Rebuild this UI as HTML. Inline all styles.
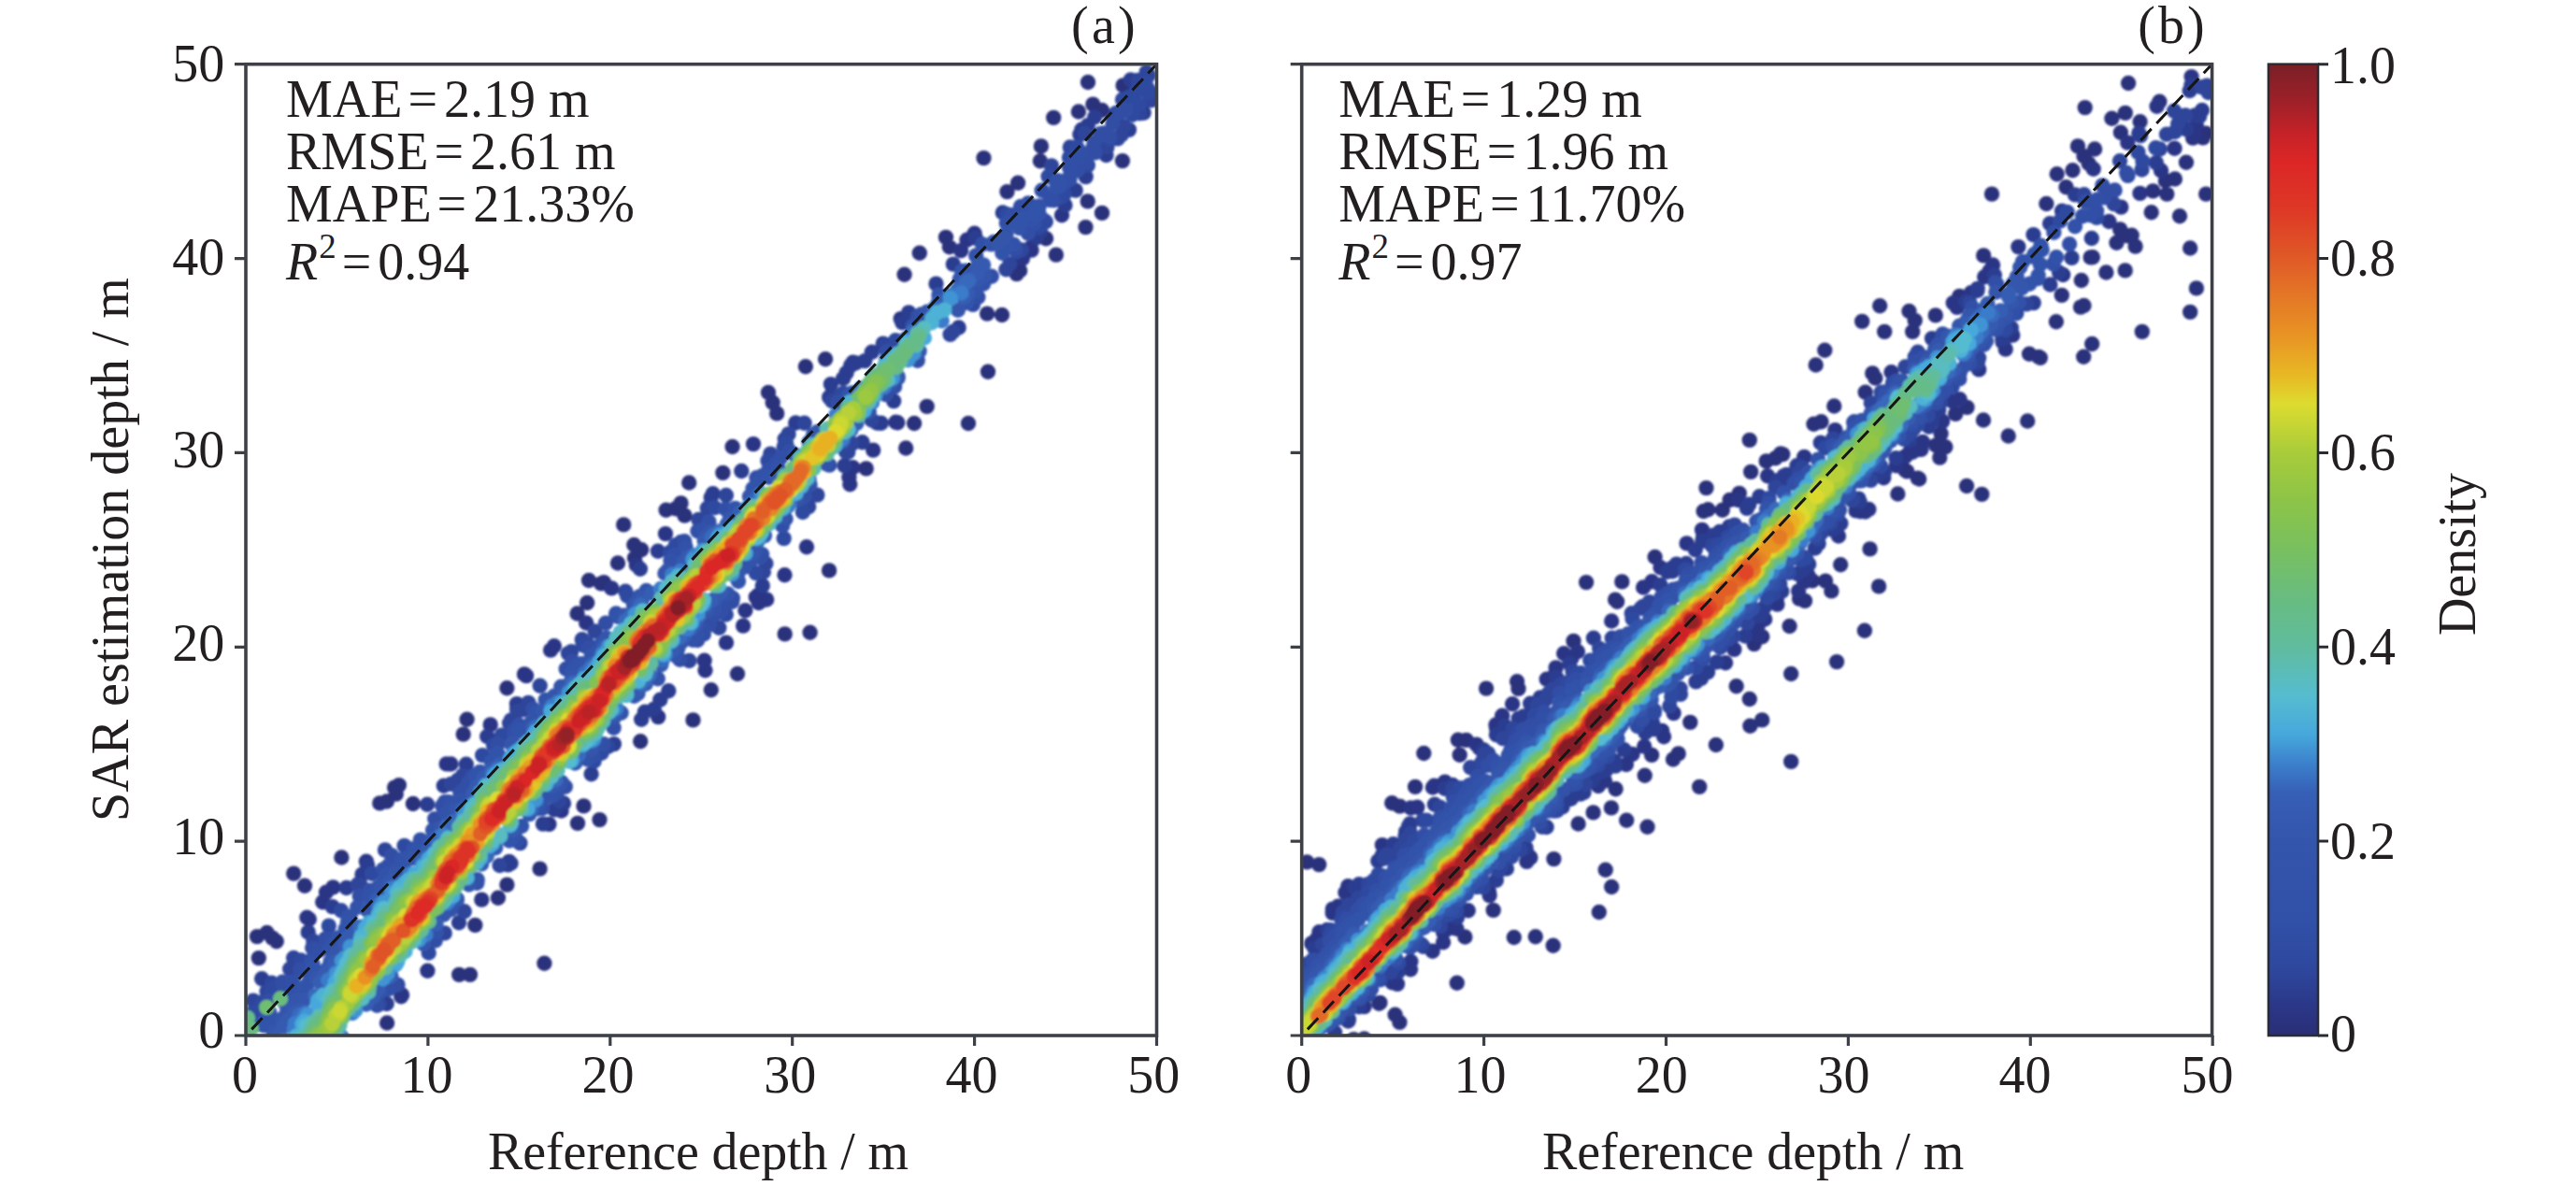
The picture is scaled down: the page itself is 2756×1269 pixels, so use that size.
<!DOCTYPE html><html><head><meta charset="utf-8"><title>fig</title><style>html,body{margin:0;padding:0;background:#fff}
#c{position:relative;width:2756px;height:1269px;overflow:hidden;background:#fff;font-family:"Liberation Serif",serif;color:#231f20}
.t{position:absolute;white-space:nowrap;font-size:56px;line-height:1;}
.eq{margin:0 7px 0 6px}
sup{font-size:37px;line-height:0;vertical-align:baseline;position:relative;top:-23px;margin-left:1px}
</style></head><body><div id="c"><svg width="2756" height="1269" viewBox="0 0 2756 1269" style="position:absolute;left:0;top:0">
<clipPath id="ca"><rect x="263.0" y="68.7" width="974.5" height="1039.3"/></clipPath>
<clipPath id="cb"><rect x="1392.7" y="68.7" width="973.9" height="1039.3"/></clipPath>
<filter id="bl" x="-2%" y="-2%" width="104%" height="104%"><feGaussianBlur stdDeviation="0.9"/></filter><filter id="bl2" x="-2%" y="-2%" width="104%" height="104%"><feGaussianBlur stdDeviation="0.45"/></filter>
<g clip-path="url(#ca)"><g filter="url(#bl)"><g fill="none" stroke-linecap="round" stroke-width="16.4"><path stroke="#2a317b" d="M582.4 1030.7h0M314.2 934.6h0M1164.0 88.0h0M1127.2 125.9h0M887.1 610.4h0M667.2 561.4h0M969.2 479.5h0M275.0 1002.1h0M983.8 270.7h0M422.1 842.6h0M630.0 621.0h0M406.3 859.4h0M1163.7 215.4h0M967.6 293.7h0M577.6 929.6h0M737.2 516.5h0M760.8 738.2h0M1153.9 119.5h0M499.6 769.7h0M413.9 857.5h0M423.8 849.6h0M618.0 880.9h0M712.6 545.7h0M1200.9 172.1h0M826.7 430.8h0M1052.5 169.1h0M1113.9 156.4h0M1012.0 253.9h0M1179.0 227.9h0M1161.5 243.1h0M1129.9 272.6h0M1072.0 337.0h0M1057.0 397.7h0M861.9 392.3h0M822.0 420.0h0M783.6 478.0h0M991.7 434.9h0M978.1 453.0h0M1036.0 453.0h0M732.5 551.6h0M661.0 602.5h0M646.0 623.1h0M866.6 676.7h0M839.7 678.4h0M789.0 721.0h0M741.5 770.4h0M561.0 721.4h0M495.7 785.6h0M426.9 840.1h0M441.9 860.0h0M641.5 877.1h0M326.0 947.7h0M285.6 998.0h0M276.8 1025.1h0M502.9 1042.9h0M491.2 1042.9h0M1201.6 91.4h0M1179.0 118.0h0M365.4 917.5h0M291.4 1003.6h0M678.3 583.0h0M1056.1 335.6h0M1015.8 264.2h0M643.2 624.4h0M728.5 538.4h0M883.1 384.3h0M1077.5 205.1h0M414.1 1094.5h0M723.0 544.2h0M508.3 989.9h0M624.5 862.4h0M628.2 645.0h0M542.4 736.3h0M1169.3 111.6h0M532.9 960.8h0M617.6 656.5h0M1091.2 289.5h0M295.8 1007.3h0M1087.7 293.1h0M1089.1 195.8h0M1112.9 172.3h0M542.4 946.6h0M926.7 501.4h0M1119.1 255.2h0M831.2 442.4h0M685.2 793.2h0M960.3 452.2h0M679.0 597.0h0M773.4 505.9h0M686.2 588.3h0"/><path stroke="#2b3686" d="M563.1 723.1h0M958.4 451.7h0M754.5 717.3h0M820.2 641.5h0M477.7 817.4h0M1034.5 256.7h0M349.0 954.7h0M934.2 481.6h0M328.4 981.8h0M795.1 669.6h0M863.0 585.2h0M592.9 691.2h0M1136.0 230.2h0M589.1 695.6h0M356.3 949.4h0M909.3 518.2h0M839.5 615.3h0M806.0 475.1h0M482.4 817.5h0M712.0 571.1h0M704.2 767.1h0M777.0 687.6h0M1103.6 267.6h0M1042.6 249.8h0M457.4 1038.7h0M330.8 983.5h0M1028.1 268.1h0M811.7 645.0h0M345.2 965.3h0M680.8 604.4h0M654.3 629.4h0M515.3 962.6h0M627.2 666.5h0M1093.9 276.8h0M429.2 1066.3h0M587.4 881.9h0M908.4 510.8h0M753.6 706.7h0M430.1 1064.5h0M524.7 775.4h0M1102.7 265.0h0M912.5 500.2h0M797.4 653.2h0M963.7 341.1h0M600.6 867.5h0M391.9 921.8h0M912.6 387.7h0M810.8 637.1h0M808.8 638.9h0"/><path stroke="#2c3d90" d="M546.5 923.8h0M972.2 334.4h0M942.7 452.7h0M1019.8 282.6h0M280.1 1047.3h0M910.1 391.3h0M888.9 411.1h0M762.7 528.2h0M1139.5 219.5h0M1209.6 85.5h0M543.5 925.4h0M329.7 997.4h0M915.3 388.5h0M1171.2 125.2h0M1043.8 254.7h0M1157.3 138.8h0M815.8 626.6h0M1109.2 254.3h0M699.9 758.6h0M905.6 398.9h0M552.9 753.1h0M684.9 608.8h0M956.2 429.1h0M851.2 452.5h0M965.3 345.1h0M457.1 860.8h0M491.0 987.2h0M760.7 532.3h0M686.2 769.8h0M938.2 452.5h0M393.0 925.8h0M1223.6 120.7h0M1001.5 303.6h0M902.2 404.9h0M580.9 881.6h0M370.6 950.0h0M703.9 589.8h0M355.6 970.1h0M413.7 1074.0h0M544.7 921.9h0M932.8 376.7h0M1113.0 248.1h0M603.0 859.5h0M498.8 817.8h0M1207.9 138.9h0M1163.7 134.2h0M793.3 504.0h0M715.3 739.2h0M474.8 840.8h0M1150.7 203.6h0M922.6 473.2h0M1161.7 189.1h0M521.2 788.0h0M1155.4 143.9h0M944.8 367.6h0M925.3 386.1h0M632.6 828.2h0M706.3 748.8h0M656.9 796.1h0M387.5 935.6h0M1025.7 350.5h0M1183.5 166.0h0M1072.8 227.5h0M689.9 761.7h0M887.2 425.1h0M903.4 498.3h0M1233.1 106.6h0M888.6 423.5h0M593.3 866.4h0M553.1 758.0h0M1157.5 142.9h0"/><path stroke="#2d459a" d="M1231.3 107.2h0M607.9 699.1h0M1144.8 157.5h0M843.6 464.4h0M860.6 452.8h0M622.7 684.3h0M1219.3 121.3h0M1076.4 288.2h0M947.2 368.9h0M314.1 1025.0h0M1199.9 144.3h0M482.6 838.9h0M1016.6 357.9h0M475.7 998.4h0M270.9 1070.6h0M932.7 449.5h0M1019.6 354.9h0M1118.8 237.2h0M1125.0 177.4h0M769.3 671.8h0M737.4 707.0h0M611.2 697.3h0M553.4 761.0h0M1080.2 282.5h0M412.0 909.4h0M1195.7 148.4h0M1217.2 86.0h0M1235.8 100.9h0M816.9 612.0h0M1226.7 77.1h0M489.8 834.7h0M1093.1 267.4h0M839.7 469.8h0M1160.6 142.7h0M495.1 829.6h0M669.2 632.8h0M756.8 543.8h0M496.8 975.2h0M907.3 483.7h0M776.9 530.0h0M382.6 946.5h0M890.2 429.0h0M636.6 675.4h0M290.6 1051.7h0M874.4 529.6h0M534.6 926.0h0M747.4 555.9h0M565.3 751.9h0M865.2 542.3h0M650.7 798.8h0M1111.7 244.1h0M546.7 770.6h0M577.7 733.7h0M623.6 688.3h0M489.9 837.8h0M598.0 857.2h0M385.7 947.0h0M556.4 902.1h0M285.5 1060.5h0M1201.0 106.5h0M560.2 759.3h0M310.2 1036.7h0M335.3 1007.0h0M1228.8 80.5h0M819.4 603.0h0M545.1 773.8h0M824.3 485.6h0M1184.4 157.5h0M897.3 424.0h0M1202.5 135.2h0M904.8 483.2h0M911.8 474.6h0"/><path stroke="#2f4aa0" d="M722.8 583.2h0M1113.0 241.1h0M958.1 364.2h0M1077.0 229.3h0M858.9 548.0h0M397.9 934.8h0M398.0 934.7h0M1203.0 106.5h0M902.1 420.6h0M365.0 974.2h0M1211.6 122.7h0M1228.3 99.5h0M841.2 474.6h0M643.6 805.7h0M624.7 690.8h0M458.7 1019.5h0M1163.8 176.9h0M1218.8 112.3h0M1116.3 235.5h0M351.8 990.6h0M1152.1 157.2h0M776.8 657.5h0M321.9 1027.5h0M1225.5 88.4h0M536.8 786.7h0M1228.4 95.2h0M838.7 576.1h0M728.8 579.9h0M291.6 1057.8h0M626.3 690.4h0M764.6 543.1h0M808.8 613.1h0M405.6 1074.5h0M716.9 590.9h0M1087.6 269.2h0M838.7 478.2h0M1138.6 207.6h0M635.6 814.4h0M628.4 688.8h0M1208.0 103.9h0M280.8 1072.4h0M294.7 1055.8h0M295.0 1055.6h0M334.2 1014.3h0M775.9 656.2h0M1135.3 210.7h0M1194.2 120.9h0M270.8 1083.1h0M1187.5 148.8h0M1215.0 98.8h0M516.1 808.1h0M821.5 493.1h0M1121.6 188.7h0M1040.9 325.9h0M425.5 1053.6h0M671.2 637.7h0M290.4 1063.1h0M432.6 904.9h0M269.4 1087.4h0M528.0 797.2h0M1144.0 168.6h0M273.8 1082.5h0"/><path stroke="#304da4" d="M335.9 1015.0h0M1162.2 174.2h0M1187.6 146.5h0M759.2 668.6h0M403.4 1075.8h0M752.9 678.5h0M418.8 915.1h0M1199.6 119.9h0M957.1 413.7h0M553.6 899.7h0M732.3 579.2h0M302.3 1050.7h0M1190.9 129.4h0M1171.7 163.4h0M473.2 862.2h0M783.3 643.7h0M648.0 666.8h0M475.9 858.3h0M287.2 1071.0h0M1190.5 132.0h0M727.4 705.7h0M1046.4 318.0h0M1204.5 117.9h0M1092.2 220.9h0M896.0 430.1h0M465.7 1006.4h0M532.7 795.6h0M612.5 707.3h0M320.9 1037.3h0M981.7 385.8h0M948.9 375.9h0M1149.1 167.8h0M348.3 1004.4h0M605.7 715.8h0M1153.1 182.3h0M422.1 1054.5h0M1176.9 143.3h0M981.9 338.4h0M1180.6 142.5h0M1180.5 144.2h0M1127.5 214.3h0M1086.4 266.5h0M1100.0 249.6h0M1082.5 230.3h0M604.8 841.8h0M629.6 693.3h0M1169.3 158.4h0M947.9 422.1h0M887.3 497.6h0M302.7 1054.7h0M465.2 876.1h0M1091.8 222.8h0M1170.6 153.1h0M384.7 958.6h0M746.2 685.0h0M783.9 640.0h0M844.8 482.5h0M1154.5 165.8h0M492.3 847.8h0M313.3 1050.1h0M1156.8 171.5h0M861.1 531.0h0"/><path stroke="#314fa7" d="M1157.6 163.9h0M771.3 654.1h0M746.4 568.2h0M1144.5 192.0h0M835.2 489.7h0M1153.7 169.6h0M501.2 837.2h0M479.8 858.2h0M1051.1 261.5h0M645.8 796.1h0M570.2 758.6h0M409.9 930.4h0M505.0 831.1h0M496.2 845.3h0M752.8 672.8h0M1114.7 203.8h0M313.2 1050.6h0M341.5 1016.7h0M510.3 944.7h0M720.3 594.8h0M1123.8 214.1h0M416.0 1058.1h0M859.0 533.0h0M634.7 808.8h0M772.6 651.5h0M813.3 596.4h0M764.9 657.2h0M352.3 1005.2h0M1107.3 238.1h0M656.6 778.8h0M580.2 865.0h0M332.5 1027.6h0M1145.4 183.2h0M815.2 593.1h0M747.6 679.9h0M1143.4 191.1h0M776.3 544.7h0M722.8 593.5h0M1100.1 217.4h0M809.4 511.3h0M1144.0 179.3h0M1141.4 193.4h0M415.0 926.7h0M1060.8 295.7h0M554.3 776.6h0M555.1 775.7h0M830.1 496.4h0M595.7 848.4h0M1123.3 211.7h0M549.5 782.0h0M326.7 1037.9h0M395.7 952.6h0M273.0 1097.0h0M1076.8 238.6h0M550.2 781.7h0M659.1 656.5h0M837.1 562.4h0M493.8 850.3h0M285.5 1086.1h0M822.3 502.8h0M758.5 558.4h0M772.5 648.9h0"/><path stroke="#3251a9" d="M1111.6 228.6h0M288.4 1083.4h0M733.6 585.4h0M449.8 898.6h0M508.4 829.4h0M1130.3 200.4h0M815.4 509.1h0M591.1 851.8h0M985.5 336.5h0M372.6 980.7h0M1133.0 199.8h0M717.5 599.9h0M510.7 941.3h0M1131.1 195.9h0M442.1 908.3h0M1131.3 193.3h0M334.2 1030.8h0M614.8 712.3h0M286.1 1087.7h0M628.5 812.5h0M484.2 859.2h0M741.2 684.8h0M1084.6 261.7h0M450.9 899.7h0M1133.4 193.8h0M482.8 860.5h0M929.8 440.5h0M840.6 555.2h0M598.9 842.7h0M866.5 518.8h0M1104.9 234.8h0M531.4 805.4h0M746.0 678.2h0M374.6 980.7h0M467.2 997.4h0M429.3 919.8h0M382.3 970.7h0M1052.1 303.7h0M550.6 895.1h0M832.0 499.7h0M752.4 566.9h0M394.5 959.3h0M1111.7 220.4h0M1044.2 273.4h0M1101.0 235.2h0M764.5 651.7h0M331.5 1038.6h0M309.1 1064.1h0M907.9 423.1h0M703.8 726.2h0"/><path stroke="#3252aa" d="M356.1 1010.5h0M1106.5 229.0h0M809.3 518.3h0M282.2 1097.3h0M790.0 622.0h0M371.8 986.5h0M554.8 781.5h0M1108.6 223.3h0M722.8 701.4h0M352.8 1015.8h0M433.4 918.7h0M335.1 1034.3h0M1029.3 289.9h0M361.2 1003.5h0M1085.0 238.6h0M1094.5 233.2h0M513.5 825.9h0M482.3 973.3h0M477.0 870.2h0M463.0 888.3h0M304.2 1072.3h0M414.0 935.9h0M1004.5 315.4h0M849.9 486.1h0M611.6 719.2h0M509.2 832.4h0M575.9 865.2h0M805.5 522.7h0M911.5 420.5h0M493.3 856.3h0M544.9 899.5h0M884.0 496.2h0M1090.7 244.0h0M404.4 949.5h0M661.0 659.8h0M870.0 465.5h0M976.7 348.8h0M804.1 598.9h0M532.9 807.0h0M960.6 404.4h0M478.5 870.4h0M369.7 993.9h0M525.7 815.0h0M323.2 1058.4h0M620.3 712.2h0M411.0 941.5h0M622.3 710.3h0M601.0 837.3h0M778.7 635.5h0M356.3 1015.2h0M600.3 734.7h0"/><path stroke="#3353aa" d="M445.8 911.2h0M574.4 762.8h0M291.3 1095.5h0M1034.1 323.9h0M822.6 510.8h0M643.6 688.2h0M632.8 701.8h0M556.5 782.4h0M437.8 918.1h0M583.8 748.9h0M664.6 762.8h0M1060.4 261.4h0M1072.4 270.8h0M1042.4 312.6h0M786.6 543.9h0M432.5 923.0h0M406.1 1061.8h0M684.5 638.1h0M1063.5 258.9h0M1077.2 263.3h0M293.9 1093.6h0M558.1 884.0h0M415.4 938.3h0M683.7 639.4h0M425.2 929.6h0M632.6 803.0h0M691.5 632.0h0M796.9 606.6h0M483.5 969.5h0M329.4 1052.2h0M583.3 853.2h0M485.1 866.3h0M404.0 953.9h0M428.5 927.5h0M1076.5 250.5h0M725.4 693.4h0M568.0 773.3h0M549.0 892.2h0M852.0 535.1h0M788.4 618.5h0M581.8 854.7h0M1073.9 265.8h0M902.1 472.6h0M292.4 1098.2h0M637.8 698.7h0M1004.8 317.6h0M677.9 647.1h0"/><path stroke="#3454ab" d="M441.1 918.2h0M756.4 653.7h0M423.1 934.3h0M317.5 1069.9h0M1074.2 254.3h0M801.9 531.3h0M597.1 839.0h0M407.3 951.6h0M603.2 735.1h0M1053.2 295.9h0M319.3 1069.7h0M714.1 610.6h0M1029.3 294.1h0M1033.5 289.7h0M874.9 461.9h0M657.5 767.0h0M960.5 402.9h0M808.2 589.0h0M487.6 866.3h0M1067.4 260.1h0M474.7 978.6h0M808.8 587.9h0M682.5 741.9h0M547.3 796.5h0M721.5 696.3h0M612.2 724.3h0M632.5 801.1h0M593.0 744.8h0M453.1 1009.9h0M293.2 1103.1h0M668.1 658.4h0M649.0 682.8h0M301.6 1090.3h0M836.6 552.9h0M729.4 686.7h0M307.3 1081.8h0M353.6 1028.9h0M711.4 613.5h0M852.3 533.2h0M1051.1 296.4h0M549.1 795.2h0M471.3 885.4h0M359.8 1019.9h0M1024.9 331.7h0M991.9 333.7h0"/><path stroke="#3456ad" d="M462.8 897.8h0M1026.8 298.5h0M865.5 473.2h0M680.3 647.1h0M292.7 1106.8h0M805.1 591.4h0M365.5 1109.6h0M780.7 555.4h0M355.4 1028.4h0M983.6 375.7h0M392.6 973.5h0M459.1 902.7h0M690.8 731.8h0M736.5 594.7h0M687.6 639.4h0M952.7 410.5h0M678.5 744.8h0M416.4 943.9h0M755.5 574.0h0M789.4 613.5h0M489.0 962.8h0M350.6 1036.0h0M338.5 1047.0h0M501.7 946.5h0M419.2 942.1h0M1046.9 299.0h0M313.4 1080.6h0M349.4 1038.1h0M802.6 593.1h0M461.1 901.1h0M327.1 1069.2h0M609.2 731.6h0M488.9 961.9h0M730.8 601.2h0M566.4 871.1h0M760.4 570.0h0M765.7 640.6h0M745.0 667.9h0M371.9 1003.2h0M590.6 841.8h0M580.8 760.6h0M783.6 554.6h0M508.9 843.7h0M873.7 464.6h0"/><path stroke="#355ab0" d="M399.2 1066.8h0M719.4 696.5h0M306.6 1092.8h0M403.1 962.6h0M818.0 573.1h0M615.2 816.5h0M1052.1 283.4h0M303.7 1096.3h0M418.5 1044.6h0M357.8 1029.1h0M303.0 1097.4h0M1046.0 284.8h0M464.1 898.6h0M293.7 1111.5h0M347.7 1042.0h0M525.8 823.3h0M1035.3 314.0h0M1045.4 285.3h0M374.7 1001.1h0M349.3 1040.2h0M313.9 1084.7h0M505.9 849.9h0M517.1 832.3h0M1045.9 285.3h0M493.3 866.5h0M457.2 911.0h0M371.6 1004.0h0M299.3 1106.0h0M733.1 601.7h0M548.4 888.6h0M736.0 597.6h0M772.0 633.7h0M404.9 1058.2h0M681.1 739.8h0M659.7 760.8h0M515.1 924.4h0M969.0 362.8h0M1034.4 314.0h0M368.9 1010.5h0M753.6 578.4h0M511.2 841.4h0M778.0 560.8h0M686.4 733.5h0M707.4 711.1h0M830.7 509.8h0M321.4 1080.9h0M530.2 907.2h0M1045.8 292.6h0"/><path stroke="#365db3" d="M646.7 692.4h0M358.0 1033.3h0M570.4 778.9h0M732.7 679.6h0M318.6 1084.6h0M697.6 634.9h0M466.5 988.4h0M1031.0 318.3h0M634.2 710.4h0M520.8 915.9h0M1003.9 323.2h0M933.0 430.5h0M739.6 672.4h0M948.2 385.3h0M466.2 898.1h0M495.4 866.3h0M811.9 528.9h0M391.8 1074.5h0M808.2 532.7h0M865.6 513.1h0M342.7 1051.1h0M606.5 739.0h0M417.5 949.4h0M603.3 743.2h0M791.6 548.7h0M957.4 403.8h0M760.5 642.6h0M754.3 649.4h0M655.8 763.7h0M686.5 645.3h0M684.2 647.0h0M809.7 531.8h0M659.7 759.0h0M684.6 647.2h0M742.7 667.1h0M574.5 857.5h0M534.5 818.4h0M953.5 381.1h0M916.4 452.9h0M1038.1 299.0h0M910.4 460.0h0"/><path stroke="#3869bc" d="M632.3 714.1h0M842.8 541.7h0M764.4 572.3h0M568.2 865.2h0M769.8 568.5h0M320.6 1086.2h0M477.5 885.3h0M520.2 915.3h0M612.8 731.3h0M761.7 574.9h0M764.5 572.4h0M418.8 950.6h0M900.8 470.2h0M690.3 727.6h0M976.6 354.6h0M685.8 731.9h0M1035.7 300.7h0M902.1 468.6h0M630.0 716.8h0M526.3 827.6h0M1033.7 301.6h0M414.3 1045.1h0M632.7 714.2h0M321.3 1087.4h0M669.1 664.5h0M452.0 921.6h0M811.4 577.9h0M385.5 991.7h0M594.4 834.5h0M350.6 1048.7h0M470.8 894.5h0M467.4 899.3h0M689.9 727.1h0M674.9 659.5h0M532.4 822.4h0M726.9 682.1h0M1000.0 329.5h0M532.1 823.0h0M495.1 869.3h0M746.7 659.4h0M404.6 969.4h0M708.5 706.4h0M1024.1 310.3h0M635.1 792.3h0M685.7 648.3h0M573.9 777.7h0M618.9 807.9h0M485.1 879.1h0M625.9 720.4h0M762.6 574.7h0M803.9 538.4h0M694.8 722.0h0M337.7 1065.4h0M951.5 383.7h0"/><path stroke="#3b7cca" d="M644.5 699.2h0M304.1 1113.6h0M844.2 539.4h0M590.4 755.9h0M719.3 614.9h0M742.9 595.7h0M1016.6 316.0h0M327.2 1084.2h0M933.2 428.6h0M351.9 1048.6h0M420.9 950.6h0M407.9 966.6h0M315.9 1095.1h0M945.6 414.1h0M744.0 594.1h0M921.2 415.4h0M659.2 757.4h0M596.4 752.2h0M1028.4 313.5h0M900.1 470.4h0M1007.7 343.2h0M501.8 862.9h0M359.1 1041.2h0M799.0 543.7h0M479.4 965.1h0M735.7 672.9h0M324.3 1089.2h0M894.4 444.0h0M455.4 1000.1h0M707.0 630.0h0M711.7 700.6h0M477.9 966.4h0M771.8 570.9h0M633.1 716.7h0M727.8 611.2h0M307.0 1114.4h0M528.1 828.5h0M439.1 935.1h0M474.5 893.3h0M632.2 792.9h0M377.0 1084.0h0M314.9 1101.1h0"/><path stroke="#4194d4" d="M380.3 1080.9h0M741.4 599.0h0M608.9 741.3h0M971.5 385.2h0M365.8 1028.1h0M634.8 790.6h0M329.2 1086.3h0M573.0 855.6h0M954.7 404.7h0M409.6 1047.2h0M419.2 955.6h0M680.0 657.0h0M458.7 918.3h0M549.1 806.9h0M815.3 528.9h0M532.7 825.5h0M769.2 573.3h0M783.2 614.0h0M496.7 871.9h0M411.6 964.9h0M855.3 488.5h0M360.5 1042.5h0M1016.8 319.4h0M374.8 1013.0h0M447.9 1005.7h0M600.4 751.5h0M752.6 646.3h0M637.3 713.8h0M326.9 1090.7h0M977.5 378.1h0M773.7 571.5h0M452.4 926.4h0M362.2 1104.9h0M368.6 1025.2h0M746.4 656.6h0M367.3 1027.2h0M414.7 1041.1h0M936.5 423.1h0M368.4 1026.4h0M423.3 1032.1h0M651.4 691.6h0M751.5 589.3h0M573.0 782.6h0M324.3 1093.8h0M550.6 806.1h0"/><path stroke="#47a9db" d="M641.5 708.0h0M739.7 666.4h0M340.5 1070.0h0M611.7 813.6h0M394.9 987.1h0M924.7 439.1h0M424.8 1029.9h0M484.4 958.6h0M797.5 592.1h0M407.0 972.7h0M529.1 830.3h0M564.5 865.5h0M325.9 1092.8h0M390.9 992.8h0M812.4 574.1h0M908.5 430.8h0M970.1 365.4h0M323.4 1095.8h0M459.3 919.7h0M453.5 927.1h0M571.3 785.7h0M624.8 726.2h0M988.9 361.5h0M553.2 804.1h0M339.5 1074.2h0M546.1 811.8h0M425.5 1028.1h0M573.9 783.1h0M670.1 744.0h0M513.9 918.5h0M893.7 476.4h0M427.8 949.1h0M768.0 576.9h0M829.3 553.3h0M526.8 902.8h0M519.7 840.5h0M589.5 761.1h0M444.0 934.6h0M709.6 700.3h0M393.3 990.6h0M524.1 905.0h0M615.3 735.7h0M432.8 944.8h0M358.8 1051.3h0M531.0 829.8h0"/><path stroke="#4eb2d6" d="M654.4 759.2h0M346.1 1064.7h0M427.0 951.6h0M504.1 864.6h0M771.4 574.8h0M454.0 928.6h0M386.7 1001.6h0M564.7 793.8h0M313.6 1115.1h0M929.9 430.8h0M637.0 785.2h0M317.1 1108.7h0M630.3 791.5h0M510.2 923.3h0M725.4 616.3h0M997.3 340.8h0M646.3 701.6h0M851.5 527.8h0M1002.6 334.4h0M558.3 800.3h0M326.5 1096.8h0M545.7 883.0h0M537.8 823.4h0M499.6 939.3h0M535.2 894.8h0M404.8 978.9h0M718.5 686.0h0M386.2 1003.3h0M950.5 387.2h0M683.0 728.9h0M1010.3 331.8h0M602.6 752.7h0M823.1 560.3h0M424.7 954.9h0M386.4 1003.2h0M514.2 848.2h0M663.7 676.6h0M326.4 1097.4h0M954.6 383.8h0M857.3 520.3h0M784.8 564.0h0M891.7 478.4h0M909.7 430.1h0M437.3 942.2h0M507.8 860.2h0M623.6 796.8h0M584.1 839.1h0M433.5 1017.9h0M996.9 345.3h0M355.0 1110.6h0M837.5 544.0h0M719.2 684.9h0M946.9 390.7h0M425.7 955.9h0M436.9 941.7h0M652.1 761.6h0"/><path stroke="#55bbd1" d="M670.3 742.6h0M620.5 731.7h0M365.0 1044.1h0M316.3 1114.3h0M659.7 682.2h0M608.8 814.8h0M411.2 972.3h0M690.1 721.4h0M737.6 666.0h0M863.6 511.5h0M626.1 794.0h0M719.0 622.3h0M506.7 863.4h0M933.5 403.1h0M634.5 720.9h0M660.0 682.1h0M907.6 459.5h0M960.5 378.6h0M814.8 569.5h0M367.1 1039.4h0M328.2 1098.0h0M458.6 925.2h0M521.3 841.2h0M409.5 975.6h0M374.8 1023.2h0M768.9 626.5h0M400.1 987.4h0M355.3 1060.1h0M464.9 913.1h0M667.8 674.5h0M749.0 648.0h0M969.2 368.7h0M713.0 629.3h0M750.6 644.9h0M566.8 794.3h0M370.6 1031.1h0M780.8 569.0h0M547.0 880.2h0M495.2 879.2h0M687.7 653.6h0M752.8 641.8h0M385.9 1007.7h0M366.7 1041.0h0M371.5 1030.4h0M476.2 962.9h0M470.3 906.2h0M582.6 773.7h0M809.1 575.6h0M428.6 1021.8h0M376.4 1021.9h0M675.2 667.3h0M466.0 913.1h0"/><path stroke="#59bcc0" d="M590.0 830.9h0M710.2 696.5h0M596.6 824.3h0M637.5 719.5h0M655.0 690.9h0M534.9 893.3h0M616.5 737.3h0M949.8 406.5h0M755.5 590.3h0M440.7 1007.7h0M427.0 956.8h0M988.2 351.2h0M459.8 926.0h0M580.9 776.7h0M777.9 572.3h0M660.0 683.7h0M473.4 965.8h0M334.1 1094.4h0M743.5 604.3h0M443.2 1005.4h0M669.5 741.1h0M561.9 800.5h0M386.9 1009.4h0M387.4 1068.5h0M443.4 940.4h0M469.7 907.6h0M868.9 476.1h0M645.2 771.4h0M428.0 1021.5h0M394.2 1061.4h0M580.4 778.9h0M520.7 843.9h0M691.2 718.2h0M660.9 683.0h0M321.5 1112.7h0M644.3 772.2h0M335.1 1093.9h0M503.8 870.7h0M526.8 899.1h0M351.9 1068.9h0M509.0 862.0h0M570.0 792.7h0M359.0 1103.4h0M666.7 676.9h0M806.3 541.8h0M479.3 897.0h0M624.7 731.4h0M945.0 393.6h0M652.3 758.5h0M635.6 783.7h0M955.7 384.7h0"/><path stroke="#5dbcae" d="M385.2 1013.2h0M782.9 609.8h0M358.5 1061.2h0M560.2 803.6h0M535.2 830.5h0M336.6 1093.2h0M491.5 884.8h0M884.9 485.8h0M800.8 547.5h0M428.3 1020.3h0M513.7 914.7h0M639.7 779.1h0M619.3 736.1h0M322.8 1110.3h0M768.1 581.3h0M521.2 844.7h0M412.8 975.9h0M348.0 1115.2h0M458.2 931.1h0M980.7 369.2h0M379.2 1022.4h0M870.6 501.3h0M364.7 1053.5h0M397.2 994.2h0M729.9 618.9h0M707.3 640.4h0M829.2 551.2h0M601.0 758.5h0M766.4 582.4h0M648.8 763.5h0M717.1 684.6h0M884.8 458.6h0M864.3 481.7h0M515.6 851.8h0M446.7 940.0h0M632.7 785.0h0M341.4 1087.8h0M860.4 514.5h0M454.4 936.0h0M903.8 462.2h0M499.8 876.9h0M641.8 775.5h0M719.8 625.7h0M725.0 621.6h0M363.5 1096.7h0M981.2 357.0h0M363.6 1056.3h0M410.2 980.8h0M423.6 965.1h0M662.2 745.3h0M557.9 865.5h0M439.4 946.7h0"/><path stroke="#60bc9d" d="M496.6 882.1h0M609.8 750.2h0M443.0 942.5h0M475.5 960.6h0M335.0 1098.6h0M686.9 657.6h0M370.1 1042.8h0M856.4 490.5h0M937.7 401.1h0M384.0 1018.0h0M367.6 1048.0h0M760.2 588.3h0M577.2 786.4h0M474.7 904.4h0M338.3 1094.0h0M471.3 966.9h0M933.8 423.0h0M760.8 587.8h0M461.2 928.5h0M486.3 950.5h0M427.6 961.4h0M630.7 786.0h0M643.7 713.8h0M478.7 957.3h0M580.1 838.9h0M504.9 926.1h0M562.3 803.0h0M865.6 481.0h0M839.5 509.2h0M531.4 837.1h0M410.3 982.6h0M918.6 444.4h0M519.8 848.2h0M943.0 411.1h0M696.3 709.9h0M751.4 597.6h0M966.9 374.2h0M545.8 877.3h0M535.6 832.5h0M820.6 560.3h0M474.2 905.3h0M404.7 990.4h0M410.1 982.9h0M764.9 626.5h0M543.8 823.7h0"/><path stroke="#63bc92" d="M519.6 903.5h0M932.8 406.0h0M785.9 603.7h0M342.5 1091.6h0M451.0 995.0h0M983.6 358.9h0M495.9 883.9h0M378.6 1073.9h0M585.0 776.6h0M687.0 659.2h0M326.3 1112.0h0M412.1 1035.4h0M339.2 1096.1h0M544.6 878.2h0M439.2 949.7h0M478.5 901.7h0M492.1 887.7h0M596.0 765.0h0M341.2 1094.8h0M943.4 410.1h0M548.6 818.8h0M331.3 1106.1h0M465.4 921.7h0M437.5 1007.8h0M735.5 663.1h0M727.2 670.9h0M680.0 666.8h0M507.3 870.0h0M460.3 932.2h0M560.6 806.4h0M706.3 697.3h0M394.8 1057.0h0M820.4 529.1h0M489.2 946.5h0M580.9 836.1h0M821.2 558.6h0M457.2 937.1h0M605.7 758.0h0M945.7 395.6h0M468.1 971.0h0M447.5 997.5h0M333.1 1103.3h0M890.6 476.7h0M375.0 1035.6h0M888.9 479.0h0M962.8 380.2h0M363.3 1062.2h0M455.5 938.6h0M804.5 545.8h0M343.1 1093.4h0M568.7 799.3h0M356.3 1071.3h0M957.7 385.2h0M665.3 740.5h0M777.0 614.3h0M367.0 1055.1h0"/><path stroke="#66bc88" d="M328.1 1112.0h0M458.8 986.0h0M445.6 945.3h0M379.2 1029.1h0M516.8 854.6h0M400.5 997.1h0M536.4 834.6h0M431.1 961.6h0M413.7 982.9h0M333.4 1104.6h0M557.8 810.6h0M754.8 595.0h0M633.7 781.5h0M336.7 1102.0h0M794.0 557.3h0M591.2 823.9h0M469.6 915.1h0M572.2 846.7h0M432.2 960.1h0M906.7 436.8h0M980.8 363.9h0M585.5 778.1h0M972.4 369.6h0M976.4 369.2h0M365.0 1060.2h0M552.5 816.3h0M963.3 386.7h0M971.0 373.0h0M929.7 410.6h0M811.5 569.7h0M264.9 1089.3h0M372.3 1079.8h0M959.0 393.1h0M410.1 988.2h0M544.1 877.7h0M811.8 569.3h0M355.0 1074.4h0M366.7 1088.4h0M434.8 957.9h0M493.8 940.0h0M794.4 590.1h0M653.1 700.5h0M481.2 952.4h0M733.6 663.6h0M628.5 735.0h0M574.3 843.1h0M940.1 412.6h0M645.0 765.9h0M780.3 610.0h0M621.4 791.1h0"/><path stroke="#6abc7d" d="M510.0 915.3h0M376.5 1073.9h0M968.2 377.7h0M673.1 676.7h0M672.8 731.9h0M420.4 1024.8h0M338.2 1101.5h0M612.2 803.6h0M300.0 1068.5h0M597.1 818.0h0M340.2 1099.4h0M426.7 1017.6h0M449.5 943.9h0M552.7 866.5h0M848.1 501.3h0M352.1 1078.7h0M345.4 1093.9h0M368.7 1056.8h0M958.1 386.8h0M945.1 406.3h0M408.3 991.7h0M436.1 1007.5h0M423.3 973.0h0M352.7 1079.3h0M696.9 654.4h0M461.2 935.5h0M356.0 1101.8h0M653.2 751.6h0M357.8 1099.9h0M436.0 958.3h0M725.9 626.0h0M563.1 807.7h0M677.4 673.1h0M527.9 845.2h0M625.2 736.8h0M755.3 596.1h0M942.0 400.4h0M816.0 564.0h0M517.3 857.2h0M676.8 674.0h0M268.8 1100.7h0M602.2 763.3h0M486.3 898.5h0M467.2 922.6h0M717.8 679.1h0M802.7 548.9h0M462.8 933.5h0M441.9 1000.4h0M745.3 646.4h0M678.9 671.9h0M931.5 409.6h0"/><path stroke="#6fbe71" d="M590.2 822.4h0M369.5 1056.4h0M779.1 576.2h0M650.0 756.1h0M484.8 899.5h0M749.1 603.5h0M742.1 613.4h0M430.4 965.6h0M528.9 845.2h0M542.8 828.6h0M591.3 821.1h0M653.8 702.0h0M466.4 970.8h0M568.8 848.6h0M610.1 804.7h0M648.0 759.0h0M613.5 800.4h0M641.6 770.7h0M358.0 1099.1h0M570.9 846.2h0M285.4 1077.9h0M950.3 395.0h0M949.7 396.2h0M428.8 968.1h0M544.8 828.0h0M381.4 1032.4h0M361.0 1071.9h0M447.6 947.5h0M918.6 425.4h0M690.5 660.3h0M373.0 1047.7h0M614.8 750.6h0M819.7 531.1h0M883.3 484.2h0M517.4 858.3h0M690.6 659.9h0M395.8 1009.3h0M835.8 541.0h0M593.1 771.2h0M519.6 899.1h0M666.4 735.9h0M707.0 692.7h0M518.2 856.5h0M589.0 823.7h0M634.2 778.9h0M482.8 949.4h0M927.5 428.9h0M840.7 535.9h0M700.5 653.3h0M866.0 483.0h0M893.4 471.5h0M925.8 417.0h0M946.7 400.7h0M573.6 798.0h0M379.4 1068.4h0"/><path stroke="#75bf66" d="M418.4 982.4h0M351.2 1086.7h0M658.7 695.7h0M670.5 682.1h0M388.4 1024.1h0M350.2 1107.1h0M374.5 1047.7h0M767.3 587.2h0M610.1 803.9h0M569.0 803.2h0M942.4 406.1h0M735.1 660.2h0M354.4 1102.4h0M429.2 1013.5h0M929.7 424.8h0M599.1 814.1h0M402.4 1001.5h0M938.6 405.9h0M556.0 861.8h0M464.6 932.2h0M805.7 547.0h0M376.4 1043.2h0M518.2 858.2h0M358.8 1076.3h0M385.2 1028.7h0M931.6 411.0h0M662.9 738.4h0M332.9 1111.4h0M380.5 1035.2h0M684.7 716.9h0M514.0 865.4h0M587.5 779.9h0M345.0 1112.2h0M637.8 730.2h0M372.9 1050.1h0M396.7 1009.4h0M631.6 779.7h0M551.0 822.8h0M498.6 888.0h0M722.3 671.5h0M458.2 942.6h0M432.5 967.3h0M666.3 734.8h0M892.1 472.4h0M396.7 1049.8h0M368.7 1061.9h0M439.6 1001.3h0M542.6 876.2h0M402.6 1041.9h0M475.8 911.6h0M442.6 998.4h0"/><path stroke="#7cc15c" d="M765.3 622.5h0M582.1 787.9h0M581.6 829.9h0M721.8 631.1h0M494.0 894.6h0M356.9 1079.6h0M585.8 783.9h0M723.3 630.0h0M703.3 695.6h0M353.0 1086.5h0M602.7 766.5h0M804.9 548.3h0M625.8 783.6h0M429.4 1012.3h0M434.0 964.9h0M728.2 626.6h0M770.8 617.3h0M864.1 485.8h0M718.3 675.7h0M665.3 735.7h0M369.6 1061.5h0M699.3 656.6h0M938.9 408.9h0M747.4 641.0h0M818.6 559.1h0M830.3 546.3h0M350.9 1090.0h0M334.2 1112.1h0M689.7 662.5h0M827.7 548.8h0M724.9 629.5h0M716.0 638.6h0M656.6 744.0h0M349.2 1094.5h0M462.8 937.9h0M790.4 565.1h0M808.7 544.9h0M428.0 974.2h0M452.0 949.3h0M335.1 1111.3h0M463.2 973.4h0M586.0 785.2h0M430.8 971.8h0M340.1 1106.0h0M614.2 796.8h0M724.5 630.3h0M663.4 736.6h0"/><path stroke="#83c253" d="M893.4 453.3h0M583.6 788.2h0M451.6 949.2h0M417.0 1024.6h0M499.8 926.9h0M482.9 906.1h0M838.8 513.7h0M435.5 965.0h0M918.1 440.7h0M405.5 1001.0h0M706.6 690.8h0M557.6 857.5h0M644.7 721.3h0M499.7 888.3h0M923.8 421.1h0M936.4 409.0h0M516.1 864.8h0M691.5 662.1h0M595.3 773.2h0M658.0 699.8h0M404.1 1038.9h0M421.8 983.1h0M446.1 953.3h0M358.5 1080.0h0M370.6 1061.1h0M709.5 686.7h0M552.4 863.6h0M564.9 811.1h0M546.6 869.4h0M650.7 711.2h0M381.8 1037.8h0M737.3 621.7h0M632.0 777.5h0M654.1 746.4h0M819.1 534.1h0M666.7 689.5h0M639.6 731.2h0M391.8 1023.7h0M556.8 819.6h0M339.1 1108.4h0M402.2 1005.2h0M519.7 895.8h0M627.5 781.1h0M811.3 566.6h0M358.1 1079.9h0M492.6 898.2h0M517.3 864.6h0M696.3 659.3h0M490.3 900.0h0M334.1 1114.5h0M639.0 731.3h0M918.8 439.3h0M409.1 999.8h0M502.3 886.0h0"/><path stroke="#8ac44b" d="M390.5 1055.4h0M858.9 492.0h0M384.7 1061.3h0M478.1 912.1h0M756.6 598.4h0M701.9 695.2h0M479.3 949.3h0M584.3 788.6h0M768.0 589.2h0M474.0 917.6h0M589.2 781.5h0M475.4 915.6h0M716.8 639.5h0M929.5 422.4h0M933.2 416.9h0M831.0 544.5h0M366.6 1083.2h0M865.4 502.8h0M855.8 495.4h0M898.5 448.6h0M639.2 769.8h0M853.3 519.2h0M437.6 964.2h0M866.3 484.9h0M564.9 812.4h0M740.0 619.9h0M372.5 1060.1h0M435.3 968.1h0M605.2 766.6h0M872.2 478.5h0M738.8 621.1h0M459.3 945.5h0M388.5 1030.9h0M483.5 945.3h0M471.3 957.9h0M440.3 998.0h0M380.2 1042.6h0M902.1 457.7h0M449.8 988.3h0M548.5 865.8h0M728.8 629.0h0M614.2 756.8h0M353.2 1091.0h0M393.0 1051.9h0M503.1 886.4h0M399.8 1011.5h0M511.0 875.9h0M374.4 1070.5h0"/><path stroke="#93c645" d="M545.5 869.3h0M901.2 446.2h0M391.3 1027.5h0M383.2 1039.1h0M439.6 963.3h0M611.6 761.8h0M554.6 859.5h0M404.4 1036.8h0M419.9 988.8h0M741.4 647.7h0M395.9 1048.0h0M598.2 811.0h0M931.0 418.2h0M725.4 631.6h0M419.6 989.0h0M624.7 745.1h0M346.2 1104.5h0M363.3 1087.7h0M586.0 787.3h0M762.5 593.8h0M336.8 1113.2h0M739.4 651.1h0M538.5 842.0h0M440.7 996.6h0M403.3 1006.6h0M701.2 658.4h0M788.0 595.3h0M718.1 673.0h0M374.8 1056.7h0M378.7 1047.4h0M568.0 843.8h0M825.3 528.0h0M477.1 950.1h0M422.4 987.7h0M468.0 962.3h0M611.3 762.6h0M472.8 922.7h0M499.0 892.2h0M383.2 1061.3h0M454.4 983.5h0M378.1 1049.9h0M704.6 656.4h0M879.2 470.8h0M676.3 681.6h0M353.7 1092.4h0M412.7 998.6h0M595.1 777.9h0"/><path stroke="#9dc93f" d="M869.7 482.3h0M839.8 533.9h0M874.3 490.4h0M393.2 1028.0h0M427.8 1009.6h0M432.0 1006.1h0M431.0 1007.2h0M411.8 999.6h0M821.2 553.8h0M670.5 727.1h0M926.3 424.4h0M926.3 425.2h0M914.6 442.5h0M809.3 568.0h0M792.8 587.4h0M792.3 588.1h0M763.5 620.7h0M631.9 774.9h0M609.2 765.9h0M608.0 767.1h0M646.0 722.6h0M661.7 699.2h0M455.2 951.1h0M573.2 836.6h0M563.0 816.8h0M377.6 1066.0h0M629.2 777.5h0M877.7 486.9h0M371.2 1074.2h0M608.9 765.6h0M466.1 938.2h0M437.0 999.4h0M523.0 859.9h0M491.1 903.2h0M628.8 776.8h0M901.6 447.4h0M479.3 914.2h0M800.4 577.4h0M352.0 1098.6h0M541.4 872.9h0M492.6 933.4h0M437.8 998.7h0M440.9 964.4h0M737.1 652.9h0"/><path stroke="#a7cc3a" d="M834.2 519.9h0M895.6 464.1h0M420.3 992.2h0M730.8 659.7h0M459.2 949.3h0M599.8 774.1h0M580.3 827.3h0M484.0 910.5h0M907.7 441.7h0M581.1 797.0h0M657.5 738.3h0M426.0 986.2h0M565.7 845.9h0M521.9 861.3h0M539.2 874.7h0M700.6 660.3h0M570.9 839.3h0M449.7 955.8h0M863.9 489.4h0M858.2 494.4h0M913.1 437.4h0M451.2 955.4h0M801.1 576.1h0M786.4 572.6h0M809.6 566.8h0M522.0 890.6h0M739.4 622.8h0M841.3 513.4h0M905.5 451.9h0M505.4 886.4h0M737.3 625.1h0M575.5 803.4h0M505.2 914.3h0M740.8 647.6h0M726.2 663.3h0M380.1 1049.3h0M550.1 830.9h0M656.1 739.4h0M636.3 770.0h0M608.4 768.1h0M510.4 880.0h0"/><path stroke="#b9d137" d="M434.2 1001.8h0M816.5 539.5h0M735.5 626.7h0M359.4 1086.3h0M700.5 693.5h0M907.9 441.6h0M563.9 817.1h0M355.5 1095.2h0M758.9 623.5h0M886.2 476.5h0M426.5 986.6h0M776.4 607.9h0M462.9 947.1h0M898.1 452.7h0M805.7 551.1h0M421.8 1014.2h0M364.8 1078.6h0M779.2 581.4h0M663.1 732.0h0M794.7 583.7h0M806.9 550.1h0M652.4 713.6h0M564.4 846.6h0M855.0 514.7h0M544.4 868.1h0M661.5 701.2h0M877.1 474.8h0M374.8 1061.3h0M513.7 876.5h0M626.0 748.4h0M417.9 997.0h0M539.2 874.1h0M773.9 587.1h0M852.0 518.6h0M505.5 888.0h0M899.4 450.8h0M767.3 616.1h0M492.7 904.9h0M789.7 569.3h0M433.0 1002.6h0M608.0 799.9h0M667.7 727.1h0M628.8 746.5h0M806.9 550.2h0M376.4 1065.5h0M576.9 802.9h0M419.0 995.6h0M881.8 469.6h0M741.9 644.6h0M491.7 905.8h0M583.6 795.9h0M570.8 838.4h0M382.6 1046.6h0M514.2 876.4h0M789.4 591.3h0M601.2 806.4h0M714.6 674.3h0M385.6 1056.8h0M361.8 1085.4h0M717.7 643.1h0M745.2 616.2h0M360.9 1086.3h0"/><path stroke="#cbd733" d="M380.7 1050.7h0M493.1 904.7h0M897.8 459.2h0M627.8 776.0h0M899.8 453.4h0M374.5 1063.5h0M821.3 552.2h0M524.6 860.9h0M363.6 1082.0h0M595.1 781.7h0M460.2 951.6h0M563.1 820.9h0M483.8 913.2h0M477.2 947.2h0M520.7 890.0h0M846.2 524.4h0M475.4 922.5h0M875.4 486.2h0M503.4 891.3h0M588.7 789.6h0M673.3 721.0h0M418.5 997.8h0M440.7 993.5h0M442.6 965.9h0M463.3 947.0h0M861.6 493.4h0M804.5 570.8h0M696.2 665.7h0M521.5 865.6h0M879.6 473.0h0"/><path stroke="#ddda2f" d="M806.4 551.0h0M633.6 744.7h0M894.0 461.9h0M479.3 945.0h0M766.9 615.3h0M434.2 979.8h0M410.8 1024.8h0M608.0 770.6h0M400.0 1021.5h0M879.5 474.8h0M415.9 1002.2h0M608.8 797.3h0M386.3 1044.0h0M779.3 582.6h0M532.1 855.0h0M873.6 486.8h0M787.5 593.2h0M547.4 838.0h0M498.5 922.4h0M450.7 982.8h0M833.8 522.4h0M804.4 553.8h0M489.0 910.9h0M674.3 720.2h0M514.1 896.6h0M801.4 573.4h0M618.5 759.5h0M686.0 707.7h0M559.0 850.4h0M414.8 1019.9h0"/><path stroke="#e4c428" d="M406.6 1029.4h0M875.8 478.9h0M807.9 566.6h0M451.5 981.5h0M875.6 479.3h0M791.5 586.8h0M521.5 867.9h0M642.6 758.4h0M869.4 489.5h0M568.9 838.1h0M551.1 857.6h0M420.9 997.7h0M454.6 957.9h0M569.7 814.1h0M724.6 662.4h0M657.2 711.0h0M489.1 911.9h0M389.1 1051.7h0M837.5 533.4h0M721.2 641.0h0M490.2 911.6h0M881.8 472.5h0M877.0 482.7h0M819.1 538.2h0M580.3 823.8h0M817.9 540.4h0M739.9 625.4h0M630.3 771.9h0M684.2 708.6h0M503.3 894.4h0M664.5 702.4h0M423.0 995.9h0M598.5 805.7h0M466.9 959.2h0M594.5 784.8h0"/><path stroke="#e8b124" d="M521.6 868.3h0M883.6 472.3h0M575.7 829.2h0M620.5 779.8h0M736.3 629.1h0M582.2 820.4h0M426.3 992.5h0M667.6 697.7h0M879.6 477.7h0M660.3 707.8h0M710.5 657.2h0M888.2 468.9h0M775.6 587.8h0M514.1 880.2h0M499.1 900.4h0M671.1 721.4h0M561.5 846.4h0M877.2 480.4h0M657.0 734.8h0M859.7 505.7h0M883.8 474.2h0M504.6 892.8h0M618.1 761.5h0M709.2 678.9h0M684.3 707.8h0M883.5 471.2h0M764.7 615.5h0M556.6 829.7h0M498.4 902.5h0M625.9 752.8h0M381.5 1055.0h0M764.6 597.1h0M708.5 659.2h0M835.1 535.7h0M884.0 471.5h0M440.3 991.3h0M758.7 602.7h0M632.1 747.6h0M822.4 535.3h0M595.8 784.4h0"/><path stroke="#e8a124" d="M410.4 1010.5h0M566.4 821.1h0M527.4 881.6h0M448.2 964.9h0M420.6 1000.3h0M510.4 901.6h0M397.2 1030.7h0M823.2 534.8h0M506.0 892.7h0M492.1 928.3h0M429.4 989.6h0M857.1 499.4h0M782.5 580.7h0M447.2 966.2h0M688.8 676.3h0M783.1 579.9h0M755.6 623.6h0M562.0 825.7h0M562.4 844.4h0M430.3 989.1h0M614.1 768.3h0M583.5 816.6h0M713.7 654.1h0M627.9 772.5h0M630.5 770.7h0M695.0 694.0h0M770.5 593.3h0M662.6 727.4h0M438.0 993.6h0M450.1 964.3h0"/><path stroke="#e89224" d="M420.9 1001.2h0M715.8 651.3h0M543.6 845.2h0M486.6 915.8h0M594.6 787.2h0M420.6 1001.1h0M493.6 910.0h0M697.9 668.8h0M688.5 701.2h0M604.1 778.3h0M668.9 700.0h0M816.3 554.6h0M489.0 915.7h0M390.5 1045.8h0M586.3 813.7h0M631.5 768.6h0M616.1 766.4h0M444.7 986.0h0M841.9 525.6h0M435.2 996.2h0M513.8 882.7h0M483.2 920.1h0M500.9 900.4h0M851.0 514.9h0M641.6 757.0h0"/><path stroke="#e68525" d="M684.4 681.2h0M424.1 998.7h0M842.5 524.3h0M816.5 554.2h0M648.1 729.3h0M798.8 562.3h0M638.5 743.9h0M468.3 954.3h0M802.3 570.3h0M830.6 528.1h0M682.3 683.9h0M684.5 681.8h0M468.1 945.6h0M658.3 712.8h0M630.4 752.0h0M456.1 961.2h0M859.7 500.2h0M825.3 544.5h0M561.8 827.7h0M778.0 602.2h0M438.8 991.9h0M553.7 851.7h0M600.0 783.3h0M403.6 1022.3h0M760.3 618.0h0M544.3 846.9h0M602.5 780.5h0M759.5 603.6h0M559.2 846.5h0M657.8 731.1h0M753.7 624.2h0M588.4 797.9h0M832.6 527.4h0M418.5 1005.3h0M790.1 585.2h0"/><path stroke="#e47926" d="M527.9 865.9h0M806.4 554.9h0M520.4 885.7h0M500.6 915.7h0M845.3 515.0h0M641.0 756.8h0M588.0 797.9h0M816.3 544.8h0M638.7 761.0h0M547.4 842.8h0M552.6 836.6h0M847.8 518.1h0M683.6 683.4h0M618.8 764.4h0M600.9 782.8h0M614.0 770.5h0M578.8 808.6h0M855.5 507.5h0M397.3 1037.7h0M709.7 660.1h0M596.6 787.0h0M607.3 776.7h0M840.9 525.5h0M453.8 964.2h0M646.0 748.4h0M605.5 778.0h0M660.1 728.2h0M651.0 724.4h0M520.0 875.9h0M445.2 970.9h0M534.0 873.8h0M489.5 929.3h0M487.9 917.7h0M580.2 807.2h0M680.7 686.7h0M481.8 922.3h0M784.3 594.3h0M520.1 885.9h0M474.1 946.1h0M843.1 521.3h0M846.6 516.7h0M852.9 510.9h0M834.4 526.0h0M743.4 624.9h0M614.3 784.0h0M827.2 532.6h0M398.1 1035.2h0M680.8 687.4h0M846.7 513.6h0M648.7 743.5h0"/><path stroke="#e26b26" d="M475.7 932.0h0M856.9 503.4h0M734.0 649.9h0M673.9 714.5h0M691.7 694.8h0M700.9 669.6h0M765.0 599.6h0M722.7 643.5h0M694.7 673.1h0M414.9 1009.9h0M528.5 866.0h0M405.2 1021.9h0M608.1 777.7h0M505.4 906.9h0M836.8 527.0h0M461.9 957.5h0M468.8 952.1h0M414.0 1016.3h0M830.0 536.1h0M853.5 509.9h0M850.8 512.6h0M809.8 559.4h0M837.7 526.5h0M751.7 625.0h0M799.6 571.0h0M497.5 908.4h0M441.9 977.2h0M471.5 940.3h0M733.8 649.2h0M476.5 930.7h0M848.2 516.1h0M528.6 865.9h0M633.9 764.9h0"/><path stroke="#e15e26" d="M785.8 591.0h0M832.6 534.2h0M840.4 523.8h0M459.3 960.3h0M677.2 711.4h0M399.3 1034.0h0M795.5 568.9h0M823.3 538.2h0M582.4 815.4h0M498.6 906.9h0M602.9 798.6h0M421.4 1006.3h0M782.9 583.0h0M816.1 547.5h0M420.1 1005.8h0M478.3 928.9h0M783.6 594.3h0M614.6 782.6h0M488.1 919.5h0M693.2 676.2h0M468.5 952.3h0M624.9 759.3h0M417.4 1009.1h0M416.0 1009.8h0M708.6 675.5h0M740.7 629.3h0M742.0 627.7h0M472.0 947.4h0M666.8 720.5h0M694.8 691.4h0M662.6 724.3h0M482.1 936.2h0M744.2 633.6h0M474.0 936.7h0M513.9 892.1h0M558.5 845.0h0M415.0 1013.3h0M450.2 968.8h0M584.2 804.2h0M456.1 964.0h0M742.5 627.4h0M687.5 698.9h0M617.4 768.7h0M633.0 752.4h0M405.1 1026.0h0M557.8 834.3h0M829.0 537.7h0M714.9 656.1h0M672.0 715.7h0M620.9 774.8h0M783.1 594.2h0"/><path stroke="#e05226" d="M831.3 532.2h0M827.9 537.0h0M756.8 619.3h0M475.9 933.1h0M539.0 855.9h0M835.1 530.3h0M582.5 814.8h0M474.1 936.3h0M726.7 640.7h0M529.5 866.8h0M439.1 983.1h0M628.3 756.5h0M519.9 884.1h0M479.6 938.9h0M450.0 978.0h0M410.7 1016.5h0M522.9 881.7h0M805.7 562.0h0M585.0 804.8h0M493.3 923.0h0M621.2 765.0h0M504.6 907.3h0M750.2 625.9h0M589.1 800.5h0M766.0 600.5h0M447.5 980.3h0M743.8 633.6h0M527.5 877.5h0M407.6 1021.4h0M792.9 578.3h0M586.8 802.1h0M431.3 996.0h0M579.2 810.6h0"/><path stroke="#df4526" d="M689.1 680.5h0M620.9 766.1h0M591.8 805.1h0M748.5 626.5h0M629.2 756.7h0M590.0 799.4h0M798.4 568.1h0M655.7 730.4h0M519.6 879.5h0M626.8 758.7h0M459.1 962.9h0M665.7 720.6h0M790.0 576.6h0M747.3 623.0h0M760.3 605.3h0M714.7 666.3h0M617.3 778.0h0M677.5 710.0h0M728.6 640.0h0M461.1 961.8h0M803.1 562.0h0M525.4 878.5h0M706.1 677.2h0M474.4 937.5h0M752.1 622.7h0M705.2 679.0h0M592.6 803.9h0M717.0 655.1h0M654.5 722.7h0M717.6 654.2h0M642.5 743.0h0M525.3 872.5h0M597.6 800.7h0M637.6 759.9h0M657.2 728.6h0M776.5 600.3h0M533.7 871.7h0M733.7 648.1h0M784.0 583.8h0"/><path stroke="#de3926" d="M494.4 915.4h0M621.9 764.7h0M489.3 926.7h0M671.6 702.8h0M459.3 965.0h0M740.5 631.5h0M608.7 779.5h0M451.1 969.6h0M492.3 922.6h0M624.4 762.2h0M626.0 769.2h0M735.2 635.3h0M491.5 918.8h0M689.5 681.3h0M590.1 800.7h0M607.1 780.9h0M688.7 683.3h0M641.0 746.6h0M684.2 700.6h0M595.5 802.1h0M532.8 865.7h0M472.2 944.5h0M450.2 971.6h0M535.6 862.1h0M583.5 807.9h0M445.9 979.7h0M549.9 852.0h0M532.4 872.3h0M643.5 749.3h0"/><path stroke="#dd3226" d="M710.4 663.8h0M440.6 984.4h0M533.3 871.4h0M575.8 815.9h0M703.3 679.4h0M547.6 847.9h0M595.4 794.6h0M782.8 592.7h0M744.9 630.2h0M685.6 685.7h0M501.3 910.9h0M683.6 688.7h0M615.6 778.8h0M644.6 741.0h0M728.0 642.1h0M494.1 920.0h0M598.4 791.6h0M707.2 674.6h0M650.1 731.1h0M552.9 841.4h0M775.7 594.9h0M451.1 971.8h0M670.9 704.3h0M657.8 719.7h0M711.2 669.2h0M457.3 966.4h0M603.6 785.8h0M500.1 908.2h0M755.9 611.3h0M550.4 845.0h0"/><path stroke="#dd2c26" d="M455.5 969.7h0M632.4 755.9h0M692.5 680.4h0M447.2 976.1h0M753.8 619.3h0M708.4 672.7h0M637.2 751.5h0M629.9 758.4h0M745.7 628.0h0M660.0 717.7h0M607.7 789.4h0M715.8 663.4h0M635.3 760.0h0M637.2 752.0h0M538.3 859.8h0M647.4 736.9h0M768.9 602.6h0M526.2 876.3h0M652.5 728.2h0M529.8 873.6h0M770.6 601.1h0M648.7 734.7h0M679.2 706.2h0M591.3 801.4h0M476.9 938.9h0M664.1 719.5h0"/><path stroke="#db2626" d="M593.1 801.9h0M592.6 802.4h0M644.1 746.9h0M726.3 653.8h0M483.3 927.5h0M733.2 646.5h0M577.8 818.1h0M631.8 757.5h0M606.8 783.0h0M569.2 826.5h0M647.0 738.3h0M762.1 607.2h0M717.2 657.4h0M665.8 711.9h0M577.0 818.4h0M772.7 600.2h0M561.8 835.1h0M536.8 862.7h0M717.5 660.9h0M570.1 826.5h0M737.8 638.3h0M650.9 732.2h0"/><path stroke="#cc2327" d="M778.9 594.2h0M737.6 637.5h0M577.0 817.5h0M619.2 771.4h0M593.0 800.1h0M478.8 933.9h0M633.9 760.6h0M699.4 675.7h0M721.3 657.1h0M534.0 868.0h0M553.4 843.4h0M624.5 766.3h0M624.2 767.1h0M731.2 641.4h0M706.3 673.5h0M477.3 937.8h0M541.4 858.0h0M661.3 717.8h0M661.3 719.0h0M703.2 677.4h0M709.8 668.7h0M724.8 647.4h0M650.0 733.4h0M574.9 821.0h0M641.2 750.1h0M666.7 716.7h0"/><path stroke="#bb2228" d="M549.8 849.7h0M705.2 672.9h0M730.6 648.3h0M598.7 796.8h0M651.8 731.7h0M694.4 680.5h0M719.6 658.0h0M719.7 655.8h0M728.9 644.0h0M630.1 761.9h0"/><path stroke="#a62028" d="M602.4 789.7h0M606.4 785.6h0M604.1 789.1h0M678.4 705.1h0M668.5 714.2h0M734.5 640.3h0M682.0 700.3h0"/><path stroke="#932028" d="M678.3 704.5h0M672.1 707.3h0M606.4 786.4h0M687.1 694.4h0M675.4 707.1h0"/><path stroke="#821f27" d="M725.5 650.5h0M693.1 685.8h0M676.8 701.6h0M676.0 705.2h0M689.0 690.4h0M683.5 696.1h0M674.9 706.6h0M683.2 697.7h0"/></g></g></g>
<g clip-path="url(#cb)"><g filter="url(#bl)"><g fill="none" stroke-linecap="round" stroke-width="16.4"><path stroke="#2a317b" d="M2230.7 115.1h0M2011.2 327.3h0M1942.7 390.5h0M1872.4 776.8h0M2277.1 89.0h0M2332.0 231.2h0M2273.7 289.4h0M1762.5 884.7h0M1717.7 930.8h0M1642.8 1002.3h0M2182.8 382.9h0M2122.0 449.5h0M2181.2 381.9h0M2284.6 263.6h0M2259.4 126.8h0M2229.5 327.0h0M2042.5 333.0h0M1959.4 632.4h0M2000.6 587.4h0M2226.0 328.6h0M2200.7 186.2h0M1489.2 859.2h0M1825.5 522.1h0M2253.4 291.5h0M1558.8 1051.8h0M1497.4 1093.9h0M2171.1 378.7h0M2280.7 251.8h0M2229.5 167.1h0M2301.7 227.3h0M2075.3 489.6h0M2053.2 512.5h0M1459.6 1111.5h0M1795.7 806.4h0M1492.6 1085.8h0M2199.9 344.2h0M2276.3 252.4h0M1790.0 812.5h0M2051.8 511.6h0M2326.9 191.5h0M2217.5 182.2h0M2241.1 159.5h0M1857.7 734.2h0M1914.6 670.0h0M2081.4 478.2h0M1969.2 604.3h0M2048.7 342.9h0M1953.1 621.6h0M2122.2 273.4h0M1623.1 729.3h0M1559.9 791.8h0M2264.5 259.7h0M2339.0 173.7h0M1723.9 864.4h0M1662.4 919.1h0M1497.6 862.6h0M1759.7 829.8h0M2316.9 193.5h0M2226.8 300.0h0M1448.3 1112.1h0M2273.8 120.9h0M2349.9 124.2h0M2223.0 156.4h0M2131.0 207.6h0M2318.3 207.6h0M2360.2 207.6h0M2343.2 265.5h0M2349.9 308.4h0M2343.2 333.9h0M2291.8 354.9h0M1992.2 343.9h0M1952.3 374.7h0M2016.2 354.9h0M2046.2 354.9h0M2229.2 381.7h0M2238.2 368.0h0M2169.2 450.5h0M2148.7 466.5h0M1871.8 470.9h0M1889.7 493.4h0M2104.1 520.0h0M2120.3 528.9h0M1822.6 547.0h0M1770.6 596.0h0M1697.1 623.1h0M2010.1 627.4h0M1994.9 674.8h0M1965.1 708.1h0M1916.2 721.0h0M1590.1 736.6h0M1885.2 770.4h0M1871.8 748.0h0M1835.9 797.0h0M1916.2 814.9h0M1818.2 841.9h0M1740.2 877.7h0M1724.2 949.0h0M1710.8 976.0h0M1619.8 1003.0h0M1661.7 1011.8h0M1398.2 922.4h0M1411.2 925.1h0M1523.3 806.0h0M1514.1 841.9h0M2356.9 147.4h0M1962.3 434.5h0M1873.2 504.9h0M2003.3 399.4h0M1931.0 642.9h0M2360.0 142.7h0M2030.4 528.5h0M2189.4 218.0h0M2268.9 141.7h0M1735.3 622.4h0M2234.7 175.0h0M2268.2 245.4h0M1940.5 453.8h0M1704.6 869.4h0M2303.4 204.4h0M1827.4 545.3h0M1567.4 1002.5h0M1624.5 736.9h0M1597.7 973.9h0M2210.5 200.2h0M2104.5 435.9h0M1808.3 772.9h0M1905.1 485.4h0M2071.3 476.4h0M2205.8 315.9h0M2238.9 275.2h0M1568.7 791.9h0M1899.6 490.3h0M1728.6 844.3h0M2070.8 337.4h0M1907.3 486.1h0M2040.2 504.4h0M1948.5 451.2h0M2236.7 275.4h0M1688.6 881.5h0M1925.1 640.6h0M1885.3 681.2h0M2076.6 464.1h0M1850.7 534.9h0M2006.4 404.5h0M1938.9 621.4h0M1860.8 527.9h0M1767.1 807.9h0M1728.1 641.6h0M1476.4 1072.9h0M2092.2 442.9h0M1683.5 685.9h0M1475.4 1073.8h0M2038.2 503.0h0M1876.7 689.1h0M1995.7 419.8h0M2310.4 108.7h0M1561.7 807.7h0M2096.4 316.9h0M2346.1 147.6h0M2289.6 130.2h0M1842.8 545.8h0M1730.1 643.8h0"/><path stroke="#2b3686" d="M2347.4 145.1h0M1881.5 679.3h0M2307.6 113.7h0M1495.0 1052.9h0M2089.7 324.1h0M2055.4 480.9h0M1859.5 535.0h0M1618.1 753.2h0M2145.7 373.6h0M2312.1 182.5h0M2132.1 283.5h0M1780.1 788.2h0M2289.5 206.9h0M1924.2 632.4h0M1509.1 1037.3h0M1509.4 864.5h0M1544.1 1008.2h0M2239.7 180.8h0M1999.4 545.0h0M1891.1 509.3h0M1607.2 765.8h0M1558.4 993.8h0M2078.1 450.9h0M1532.7 1017.8h0M1821.0 566.9h0M2096.7 427.2h0M1532.9 842.5h0M1995.7 547.5h0M1534.4 840.7h0M1637.4 917.6h0M2046.1 483.7h0M1673.1 699.2h0M1633.4 921.9h0M1804.6 581.4h0M1442.2 948.2h0M2077.4 450.1h0M1930.1 622.7h0M1600.4 775.5h0M2057.1 473.0h0M1934.5 615.6h0M1425.8 972.6h0M1739.9 818.0h0M2043.2 483.6h0M2128.7 289.9h0M1489.7 1051.4h0M1776.5 607.2h0M2038.4 488.4h0M1579.7 796.6h0M1990.4 547.3h0M1967.0 573.5h0M1411.4 997.2h0M1664.6 714.4h0M1778.1 781.9h0M1593.6 958.1h0M1759.2 798.6h0M1717.0 835.5h0M1478.8 904.1h0M1439.4 955.1h0M2123.2 296.3h0M1600.9 778.7h0M1888.2 662.5h0M1654.7 726.7h0M1746.5 807.0h0M2089.4 429.7h0M2344.6 82.1h0M2349.8 134.0h0M1710.0 841.0h0M1846.1 709.2h0M2023.5 398.2h0M1687.9 697.2h0M2153.3 358.6h0M1516.3 863.8h0M1403.3 1009.4h0M1425.7 976.9h0M1901.5 646.6h0M2326.5 158.8h0M1758.1 628.5h0M1550.8 993.3h0M1882.0 667.1h0M2256.4 237.0h0M1991.1 543.8h0M1634.4 914.1h0M2159.4 264.1h0M1428.6 973.2h0M2028.7 498.2h0M2094.8 326.6h0M1855.4 694.9h0M1441.3 955.5h0M1877.7 671.2h0M1822.1 574.7h0M2207.2 294.0h0M1767.3 622.2h0M1442.4 1092.5h0M2276.3 152.6h0M1985.6 546.4h0M2108.8 313.3h0M1509.4 1028.7h0M2117.2 395.4h0M1607.5 775.0h0M1872.4 677.4h0M1408.1 1005.5h0M1544.2 997.8h0M1724.2 664.5h0M1431.8 969.6h0M1593.1 954.3h0M1545.9 836.6h0M2015.3 511.2h0M1963.4 460.1h0M1661.6 724.2h0M1930.3 488.9h0M2093.8 328.9h0M1681.6 703.9h0M2269.3 221.6h0M1790.6 763.1h0M1459.6 1077.1h0M1900.8 642.2h0M1582.9 800.5h0M2142.6 365.9h0M1570.8 974.3h0"/><path stroke="#2c3d90" d="M1871.3 539.8h0M1821.4 578.9h0M1704.9 682.8h0M2288.3 142.5h0M1442.9 1090.7h0M2353.1 124.5h0M1867.1 680.5h0M1935.2 603.6h0M2220.1 208.4h0M1600.9 786.3h0M1769.8 780.3h0M2063.7 456.5h0M1728.3 819.6h0M1833.2 572.8h0M1508.6 881.4h0M1793.6 603.6h0M1449.3 949.4h0M1869.0 543.9h0M1884.3 658.9h0M1495.8 1040.0h0M1922.4 498.2h0M2237.8 255.0h0M1507.2 883.9h0M1610.2 776.7h0M1969.4 560.1h0M1788.4 608.0h0M2115.7 308.9h0M1989.6 536.7h0M1820.0 725.9h0M1906.3 632.7h0M1637.2 752.7h0M2175.7 324.1h0M1783.8 611.8h0M1884.7 657.8h0M1504.2 889.8h0M1963.3 565.8h0M1600.8 941.9h0M1929.6 609.1h0M2067.2 450.0h0M2067.5 450.3h0M1839.8 569.0h0M1827.1 719.3h0M1908.6 509.1h0M1679.1 710.0h0M1665.1 724.8h0M2016.0 505.0h0M1901.2 514.1h0M1611.9 929.5h0M2102.9 322.7h0M1717.8 824.5h0M2355.9 118.0h0M1559.0 981.8h0M1474.3 921.2h0M1924.9 498.1h0M2344.3 91.2h0M1428.1 1104.8h0M1911.3 507.9h0M1814.5 729.4h0M1454.0 946.2h0M1947.8 473.7h0M1813.8 588.3h0M2193.4 304.5h0M1478.5 915.5h0M2028.5 490.3h0M2142.4 362.8h0M2175.5 251.1h0M1545.7 843.8h0M1490.6 903.3h0M1882.4 531.3h0M1960.9 566.9h0M1694.5 847.9h0M1420.0 995.0h0M2042.8 471.3h0M1587.4 802.5h0M2306.8 174.1h0M2290.1 145.1h0M2339.3 138.4h0M1522.6 1012.8h0M1760.4 783.9h0M1507.7 887.4h0M1406.4 1014.4h0M1881.3 659.1h0M2115.5 311.0h0M1945.6 581.7h0M1789.4 611.2h0M1503.5 894.3h0M2067.0 362.1h0M1704.1 835.1h0M1624.7 768.8h0M2216.5 275.9h0M2074.2 438.7h0M1988.5 533.6h0M1691.2 849.5h0M2010.6 508.1h0M1836.8 708.4h0M1941.9 586.5h0M2203.2 291.8h0M1632.5 907.1h0M1654.6 885.0h0M1737.6 802.3h0M1554.1 840.0h0M2342.7 97.0h0M2348.3 123.5h0M1923.0 613.9h0M1647.9 746.4h0M1836.3 577.1h0M1704.5 833.3h0M2206.1 225.7h0M1708.8 828.4h0M1888.2 649.3h0M1768.1 773.5h0M1727.1 814.1h0M1454.0 1077.3h0M2114.0 391.3h0M1776.3 625.9h0M1534.9 860.8h0M2133.9 294.3h0M1850.1 563.5h0M2151.8 350.9h0M1671.5 863.4h0M2193.1 239.2h0M1630.1 766.4h0M1905.2 515.7h0M1506.0 894.7h0M1804.1 603.0h0M1680.7 854.8h0"/><path stroke="#2d459a" d="M1786.3 755.6h0M1588.2 807.0h0M1573.2 821.3h0M1483.5 914.8h0M1587.6 807.8h0M1797.9 742.9h0M1480.8 918.5h0M1521.0 1010.8h0M1554.1 843.7h0M1503.7 898.6h0M2001.8 431.3h0M1899.4 521.3h0M1484.5 915.0h0M1982.7 534.5h0M2051.8 376.8h0M1981.7 535.4h0M1656.4 742.3h0M1644.6 754.2h0M1660.8 737.8h0M1897.5 635.8h0M2043.5 465.6h0M1509.0 892.0h0M2115.9 387.8h0M1423.8 995.3h0M1608.0 790.1h0M1831.7 583.6h0M1960.9 469.6h0M1932.2 597.6h0M1592.1 806.1h0M2327.0 141.0h0M1442.7 968.1h0M1928.2 500.2h0M1618.5 779.7h0M1587.0 949.4h0M2362.7 99.0h0M1541.0 991.3h0M1869.4 666.9h0M1488.4 1040.3h0M1855.8 561.6h0M1682.5 718.3h0M2291.5 181.5h0M1944.9 576.9h0M1436.8 975.9h0M2326.1 118.8h0M1745.7 656.2h0M2310.7 159.5h0M1665.9 867.3h0M2229.7 208.3h0M1603.5 932.0h0M2261.6 218.3h0M1589.4 810.2h0M2361.1 91.7h0M1626.9 909.2h0M1414.7 1010.8h0M1396.9 1031.8h0M1854.7 680.6h0M1522.3 877.8h0M1499.3 906.6h0M2268.0 172.3h0M1696.3 839.1h0M1423.1 998.7h0M1498.2 907.3h0M2355.0 93.1h0M1653.2 748.9h0M2168.2 325.4h0M2001.5 513.9h0M1463.5 946.1h0M1833.8 585.0h0M1649.8 884.8h0M2338.2 123.5h0M2330.1 132.6h0M2146.2 353.2h0M1948.6 570.2h0M1959.2 560.2h0M1924.2 506.1h0M2076.0 430.7h0M2107.4 324.0h0M1802.2 609.5h0M1904.2 624.9h0M1755.7 650.7h0M2115.7 385.6h0M1670.1 731.9h0M2318.0 143.7h0M2047.3 459.0h0M1797.6 736.8h0M1540.5 863.6h0M1585.3 815.7h0M1757.9 648.9h0M1453.1 960.9h0M1724.7 682.7h0M1606.9 926.1h0M1489.2 916.0h0M2012.7 419.8h0M2117.1 383.1h0M2038.4 392.5h0M1510.1 897.6h0M1711.2 693.9h0M1764.5 644.3h0"/><path stroke="#2f4aa0" d="M1617.1 916.7h0M1423.4 1001.1h0M1839.4 582.7h0M1562.5 843.1h0M1426.4 996.1h0M1526.2 877.6h0M1788.3 745.6h0M2292.4 172.6h0M1558.1 974.9h0M1804.1 609.7h0M1848.6 684.1h0M1769.9 762.4h0M2287.4 162.9h0M2306.4 158.3h0M2051.6 454.5h0M1464.0 1064.1h0M2012.1 498.6h0M1890.6 639.5h0M2211.6 226.9h0M1398.2 1033.1h0M1469.7 942.3h0M2048.8 381.9h0M1474.6 935.6h0M2088.6 413.9h0M1641.9 765.5h0M1701.3 706.7h0M2036.7 469.7h0M1930.2 596.1h0M1662.7 867.6h0M1966.2 550.2h0M1476.9 1048.3h0M2096.3 405.4h0M1554.8 853.0h0M1517.8 1008.8h0M1435.4 983.7h0M1835.0 587.8h0M1709.7 818.6h0M2042.2 462.4h0M2062.7 444.8h0M1840.5 692.8h0M1770.0 760.2h0M1463.0 1064.2h0M2144.4 352.0h0M2025.0 409.6h0M1552.7 976.6h0M1687.4 721.8h0M2243.2 232.9h0M1586.6 819.9h0M1687.1 722.8h0M1404.3 1027.3h0M1746.5 662.1h0M1926.8 599.2h0M1914.0 612.7h0M1548.3 979.3h0M1892.6 533.2h0M2204.1 236.4h0M1814.4 714.3h0M2036.1 469.1h0M1952.6 479.3h0M1648.6 762.5h0M1751.8 777.0h0M1496.2 1030.3h0M1512.4 899.7h0M1788.8 742.2h0M2013.8 420.9h0M1849.0 574.4h0M1677.4 730.1h0M1956.3 558.8h0M1504.7 910.0h0M1463.8 954.5h0M1580.0 949.0h0M1691.2 720.2h0M1720.1 809.2h0M2276.5 187.9h0M1625.9 783.4h0M1899.7 625.7h0M1622.5 787.2h0M2157.4 335.3h0M1650.3 760.6h0M1477.9 936.9h0M1440.3 981.1h0M1983.3 451.8h0"/><path stroke="#304da4" d="M1968.0 545.8h0M1984.0 451.3h0M2231.1 215.5h0M1443.8 1079.6h0M1635.0 893.5h0M1422.7 1007.9h0M1668.5 741.2h0M1597.6 813.5h0M2094.8 404.9h0M2275.2 185.0h0M1592.0 818.9h0M2028.9 407.5h0M2249.4 198.4h0M1630.0 780.3h0M2262.6 203.5h0M1665.3 861.1h0M1777.4 639.0h0M1406.5 1027.7h0M1467.1 1058.2h0M1685.7 726.7h0M1756.9 770.3h0M1571.6 840.5h0M1983.6 452.5h0M1405.1 1029.6h0M1706.3 706.1h0M1556.4 857.1h0M1942.1 573.8h0M1428.1 1000.8h0M1580.8 830.2h0M1553.7 973.8h0M1956.0 557.4h0M1822.2 705.2h0M1647.6 880.1h0M2071.9 431.2h0M2016.8 419.4h0M1572.0 840.3h0M1733.7 681.2h0M1806.5 614.0h0M2134.8 302.2h0M1681.8 731.4h0M2243.2 225.8h0M1807.2 613.6h0M2107.9 388.7h0M1511.7 1011.2h0M1502.0 915.6h0M1714.2 699.7h0M1924.4 511.7h0M1718.8 696.2h0M1638.3 776.0h0M1652.4 762.5h0M1620.9 793.4h0M1441.6 983.1h0M1710.9 703.1h0M1540.9 874.8h0M1598.9 815.8h0M1857.4 570.5h0M1455.1 1068.8h0M1458.2 967.3h0M1706.8 816.1h0M1439.7 985.4h0M1630.9 783.1h0M1623.4 791.5h0M2054.5 447.4h0M1820.6 602.1h0M2079.2 419.9h0M2078.4 357.5h0M1452.7 973.2h0M1395.5 1045.2h0M1565.9 850.3h0M1509.8 1012.6h0M1502.6 916.7h0M1453.9 972.6h0M1783.4 635.4h0M1804.5 617.2h0M1875.2 650.9h0M1850.4 577.9h0M2251.7 211.3h0M1843.3 683.3h0"/><path stroke="#314fa7" d="M2081.9 415.9h0M1960.9 476.9h0M1713.5 810.0h0M1662.9 861.5h0M1552.4 864.8h0M1840.1 590.4h0M1575.1 839.2h0M1603.4 923.1h0M1508.4 1013.6h0M1460.4 967.0h0M2048.2 387.0h0M1859.9 570.0h0M2236.5 230.3h0M2197.4 248.8h0M2214.1 261.3h0M1434.4 993.8h0M1570.8 845.9h0M1551.7 972.8h0M1650.0 768.4h0M1600.2 816.6h0M1523.8 893.6h0M1725.5 692.6h0M1864.8 567.2h0M1701.7 821.4h0M2045.3 453.9h0M1483.3 938.0h0M1580.9 834.3h0M2243.9 213.5h0M1544.6 874.3h0M1626.5 790.2h0M1567.2 850.8h0M1919.7 517.1h0M1978.1 527.9h0M1508.9 913.7h0M1482.2 940.0h0M1950.0 560.6h0M1585.4 940.2h0M1896.9 624.3h0M1790.1 630.7h0M1649.0 771.2h0M1869.5 655.2h0M1685.8 838.5h0M1911.2 610.1h0M1563.7 856.1h0M1835.7 595.0h0M1492.3 928.4h0M1534.7 989.1h0M1836.9 689.4h0M1961.9 549.1h0M1462.0 967.7h0M1657.4 867.5h0M1837.5 688.5h0M1785.2 636.2h0M1567.4 852.4h0M2028.4 410.8h0M1892.6 538.8h0M1457.8 971.8h0M2228.1 231.2h0M2196.8 282.5h0M1923.5 515.1h0M1431.8 1089.3h0M2109.9 328.9h0M1701.9 819.8h0M1616.0 803.3h0M1631.6 786.2h0M2079.3 417.2h0M1398.9 1043.0h0M1549.9 871.3h0M1620.1 905.8h0M1861.2 570.5h0M1474.1 1046.4h0M1646.9 774.4h0M2122.5 368.6h0M1572.0 847.5h0M1540.4 881.2h0M1472.9 952.9h0M2136.5 304.2h0M2153.5 335.0h0M1672.3 745.3h0M2058.2 382.1h0M1582.7 941.0h0M1408.9 1031.4h0M1683.2 839.1h0M1724.5 695.9h0M1609.5 914.5h0M1602.3 817.1h0M1568.9 956.2h0M2097.0 397.9h0M1463.0 967.4h0M1508.4 916.9h0M1849.3 674.1h0M1625.5 794.3h0M1820.2 702.1h0M1444.1 986.4h0M1420.4 1019.7h0M1637.8 782.5h0M1992.0 514.2h0"/><path stroke="#3251a9" d="M1564.3 857.7h0M1680.9 738.6h0M1455.0 1066.2h0M1543.3 879.4h0M1803.7 621.2h0M1821.7 700.2h0M2125.0 365.0h0M1488.0 936.8h0M2052.3 446.3h0M1487.6 938.1h0M1492.0 932.3h0M1663.0 858.4h0M1774.9 647.8h0M1500.6 923.8h0M2164.1 279.9h0M1547.2 875.9h0M2103.2 390.3h0M1718.1 702.2h0M1721.6 801.5h0M2017.3 422.5h0M1435.9 997.3h0M2180.1 298.1h0M1673.1 844.6h0M1702.0 719.0h0M1848.4 584.6h0M1714.3 706.0h0M1416.6 1025.2h0M2135.5 352.5h0M1908.5 527.3h0M1742.1 678.1h0M2183.5 262.8h0M1573.8 847.7h0M2200.1 275.3h0M1613.7 808.4h0M2072.4 425.9h0M1730.6 790.6h0M1687.2 734.8h0M1517.2 909.5h0M1495.6 929.2h0M2220.0 242.2h0M1498.7 926.5h0M1944.9 491.8h0M1601.7 820.3h0M1461.9 971.4h0M1443.8 988.8h0M1856.2 665.7h0M1804.9 714.7h0M1834.2 599.3h0M2031.6 408.8h0M1665.2 854.0h0M1493.2 1026.8h0M1439.8 993.1h0M1560.3 864.6h0M1410.3 1032.9h0M1632.1 889.7h0M1992.2 449.9h0M1424.4 1016.9h0M1486.3 942.2h0M2045.4 451.0h0M1712.0 806.3h0M2160.0 323.4h0M1795.9 629.4h0M1856.3 665.3h0M1469.8 961.9h0M1816.0 612.6h0M2147.8 339.4h0M1427.8 1012.4h0M1434.6 1001.2h0M1698.1 724.9h0M1565.7 860.1h0M1934.9 505.3h0M1547.5 972.0h0M1575.8 944.9h0M1510.0 919.6h0M1491.3 937.9h0M1492.5 936.8h0M1507.4 922.0h0M1566.3 859.1h0"/><path stroke="#3252aa" d="M1620.0 804.9h0M1561.3 962.6h0M1513.9 915.5h0M1989.3 514.5h0M1668.5 752.7h0M2180.7 294.9h0M1558.3 868.5h0M1890.0 544.5h0M1751.5 671.7h0M1696.5 824.3h0M2179.9 269.5h0M1582.9 840.4h0M1784.5 641.7h0M1683.6 741.0h0M1721.2 703.0h0M1537.2 889.3h0M1550.3 877.0h0M1517.4 913.2h0M1648.5 872.2h0M2176.5 272.0h0M1879.4 557.7h0M1522.1 906.3h0M2031.6 466.6h0M1430.9 1088.0h0M2073.5 368.6h0M1569.8 951.7h0M1727.1 792.8h0M2161.2 286.0h0M1588.9 836.0h0M1844.5 591.9h0M2070.3 373.0h0M1523.6 905.2h0M1821.7 609.0h0M1453.2 983.8h0M1484.8 947.1h0M1730.6 694.9h0M1499.4 930.3h0M1447.9 989.4h0M1527.8 899.2h0M1609.4 817.2h0M2001.6 442.6h0M1467.4 967.8h0M1400.2 1047.6h0M2184.7 267.3h0M1725.9 793.1h0M1699.7 817.9h0M1611.7 816.0h0M1531.4 896.7h0M1709.3 716.3h0M1769.3 657.6h0M1831.2 603.9h0M1574.8 852.1h0M1404.1 1042.7h0M1583.1 843.4h0M1787.8 730.2h0M1650.5 869.4h0M2171.3 303.8h0M2175.2 274.8h0M1755.0 670.4h0M1943.1 564.3h0M1971.9 532.0h0M1400.9 1047.5h0M1602.6 824.5h0M1710.1 716.2h0M1960.8 545.8h0M1765.3 661.3h0M1566.9 862.7h0M1983.5 459.0h0"/><path stroke="#3353aa" d="M2138.6 345.6h0M1771.1 656.7h0M1447.0 991.2h0M1710.7 804.7h0M1475.6 959.0h0M2009.1 491.1h0M2146.3 338.1h0M1903.3 612.2h0M1783.5 733.5h0M1823.1 609.9h0M1513.9 1002.7h0M1766.6 748.9h0M1416.1 1032.0h0M1465.5 974.0h0M2004.2 497.2h0M1633.3 793.1h0M1555.6 876.0h0M1922.6 592.6h0M1892.4 622.5h0M1508.8 1007.6h0M2035.2 407.7h0M1628.8 799.4h0M1492.8 1024.5h0M1572.6 857.6h0M1538.7 892.8h0M2070.1 375.3h0M1733.4 694.9h0M1512.2 1003.8h0M1561.0 871.7h0M1772.6 656.8h0M1464.3 977.6h0M1992.9 452.3h0M1470.0 968.9h0M1766.4 662.0h0M1855.3 581.7h0M1621.0 898.6h0M1964.2 480.1h0M2122.9 361.7h0M1536.4 895.4h0M1578.0 939.6h0M1683.3 833.1h0M1609.7 820.2h0M1927.4 516.9h0M1582.1 848.1h0M2182.8 282.9h0M1975.7 468.1h0M1608.1 822.2h0M1549.3 884.0h0M1795.2 720.4h0M1534.3 898.2h0M1755.2 759.1h0M1793.9 636.8h0M2088.5 401.2h0M1867.3 573.3h0M1528.9 903.8h0M2006.3 493.3h0M1665.4 761.8h0"/><path stroke="#3454ab" d="M2107.0 338.1h0M1430.1 1086.5h0M1632.2 796.8h0M1448.4 1067.4h0M1826.5 690.8h0M1458.3 1059.5h0M1402.6 1048.4h0M1659.4 857.7h0M1651.2 782.1h0M1434.2 1081.5h0M1669.2 757.7h0M2135.4 312.6h0M1540.9 893.3h0M1423.5 1093.7h0M1549.1 885.9h0M1690.8 826.8h0M1884.2 555.8h0M1493.4 944.1h0M1859.2 657.4h0M1555.3 880.2h0M1469.1 972.8h0M2084.0 359.7h0M2014.1 483.4h0M2145.3 335.8h0M1400.0 1113.1h0M2096.3 348.8h0M1610.7 821.8h0M2106.0 380.6h0M1413.0 1038.3h0M1753.9 759.6h0M1430.7 1017.7h0M1436.7 1078.1h0M1671.6 756.3h0M1867.8 648.6h0M1724.1 791.4h0M1915.4 598.5h0M1402.5 1050.6h0M1608.4 824.3h0M1852.4 586.7h0M1399.5 1054.4h0M1976.1 523.2h0M1543.7 891.6h0M1764.1 748.7h0M1691.0 826.4h0M1781.8 732.4h0M1589.4 929.4h0M2118.4 365.5h0M1890.2 624.0h0M1635.1 795.9h0M1420.5 1096.4h0M1634.6 796.0h0M1595.7 922.9h0M2157.8 296.2h0M1894.9 617.8h0M1870.7 645.8h0M2026.8 418.8h0M1641.4 873.6h0M1768.9 661.6h0M2128.7 352.2h0M1425.6 1026.0h0M1511.0 928.1h0M1859.1 580.2h0M1629.0 803.3h0M1841.6 599.7h0M1798.8 714.7h0M1848.7 591.8h0M1595.6 837.8h0M1595.5 837.4h0M1406.6 1046.2h0M1545.1 969.4h0M1698.3 732.0h0M1510.6 928.2h0M1980.2 517.8h0M1559.8 959.7h0M1594.1 839.7h0M1533.4 901.5h0M2117.3 366.1h0M1409.4 1042.9h0M1995.0 505.1h0M2135.2 344.0h0M2062.0 385.7h0M1662.3 768.6h0M1801.0 631.4h0M1824.1 612.7h0M1519.9 920.3h0M2047.8 395.3h0M1479.3 961.5h0"/><path stroke="#3456ad" d="M1652.3 864.1h0M1394.7 1065.0h0M1502.1 936.1h0M1503.2 935.5h0M1392.8 1068.8h0M1838.6 678.0h0M2163.1 308.2h0M1883.2 558.4h0M1603.7 830.3h0M1734.0 697.9h0M1430.5 1019.7h0M1537.7 977.3h0M2004.6 442.6h0M1635.1 879.9h0M2016.4 479.0h0M1817.9 695.5h0M1401.9 1052.7h0M1705.2 805.5h0M1395.0 1065.8h0M1679.3 753.4h0M1569.4 867.5h0M2009.4 487.5h0M1763.9 667.7h0M1407.2 1046.2h0M1627.4 806.9h0M1740.9 769.6h0M2121.1 360.2h0M2022.7 471.8h0M1424.4 1028.9h0M2084.5 361.1h0M1734.9 775.7h0M2153.8 303.3h0M1732.0 779.7h0M1732.0 700.5h0M2060.1 433.3h0M1757.4 674.2h0M1713.9 798.2h0M1523.8 992.2h0M1743.4 688.0h0M1836.1 605.8h0M1596.6 839.3h0M2081.9 405.0h0M1447.5 999.2h0M1555.0 886.3h0M1414.3 1040.4h0M1494.4 947.8h0M1624.9 812.3h0M2152.0 322.9h0M2104.0 343.5h0M1471.4 974.3h0M2127.6 350.7h0M1562.4 877.4h0M1655.8 781.5h0M1891.9 619.4h0M1823.0 614.8h0M2110.3 338.6h0M1786.2 648.1h0M1489.2 954.8h0M2055.1 436.3h0M2015.0 431.4h0M1568.3 870.0h0M2024.5 469.0h0M1722.4 790.8h0M1446.4 1001.5h0M1922.6 588.7h0M1609.0 827.8h0M1565.7 873.7h0"/><path stroke="#355ab0" d="M1520.7 993.5h0M1448.4 999.7h0M1630.3 884.0h0M2042.0 447.8h0M1634.1 800.5h0M1799.8 711.0h0M1675.2 758.0h0M1936.1 570.2h0M1833.5 608.7h0M1589.5 847.6h0M1617.4 897.7h0M1903.5 607.1h0M2026.4 466.7h0M1585.7 851.4h0M2126.4 325.0h0M1913.3 597.9h0M2090.2 395.8h0M1653.1 786.4h0M1712.9 721.6h0M1651.5 862.6h0M2130.4 346.4h0M1580.4 933.2h0M1660.6 852.1h0M1510.9 1001.6h0M1649.1 790.1h0M1438.9 1011.0h0M1720.2 715.1h0M1609.5 905.0h0M1812.3 698.0h0M2109.5 372.5h0M1534.3 906.3h0M1453.3 1060.8h0M1474.4 972.3h0M2008.3 440.0h0M1886.2 626.3h0M1427.1 1087.2h0M1852.2 590.0h0M1441.9 1008.2h0M1529.9 912.0h0M1402.1 1056.5h0M2073.9 374.9h0M2106.4 375.8h0M1896.1 613.4h0M1654.7 785.6h0M1973.2 474.2h0M1833.8 680.2h0M1869.4 576.1h0M2024.4 423.9h0M1664.1 770.3h0M1633.0 804.6h0M2123.2 330.3h0M1560.3 882.6h0M1724.8 787.0h0M1516.3 995.7h0M1624.2 815.7h0M1550.6 893.8h0M1540.1 901.7h0"/><path stroke="#365db3" d="M1512.2 999.2h0M1845.5 667.5h0M1560.1 956.4h0M1720.7 790.8h0M1513.7 997.8h0M1424.4 1033.5h0M2060.2 390.0h0M1508.9 935.4h0M1545.1 897.5h0M1456.3 1057.7h0M1848.9 663.9h0M1478.9 968.5h0M2149.3 314.4h0M1447.8 1003.6h0M1465.9 1048.2h0M1479.7 967.2h0M1740.0 695.5h0M1579.1 861.3h0M2140.5 332.4h0M1521.7 925.8h0M1743.9 690.7h0M1399.8 1062.2h0M1645.5 866.0h0M2149.0 317.4h0M1492.9 955.5h0M1755.9 752.9h0M1774.7 734.6h0M1501.6 1011.6h0M1496.8 950.4h0M1751.1 683.5h0M1626.3 887.2h0M2059.7 390.9h0M1537.2 904.6h0M1813.7 695.9h0M1643.8 867.2h0M1405.5 1053.5h0M1800.2 708.4h0M1685.6 825.9h0M1726.5 783.7h0M1528.9 985.0h0M2000.1 496.4h0M1587.1 853.6h0M2090.8 359.2h0M1689.9 749.6h0M1398.3 1066.2h0M1968.7 480.2h0M2105.0 346.4h0M1767.8 740.1h0M1566.5 948.2h0M1642.8 797.0h0M1607.2 905.2h0M1431.8 1025.4h0M1550.8 961.9h0M1517.4 930.6h0M1877.4 569.7h0M1402.6 1107.1h0M1980.6 467.5h0M2023.8 467.6h0M1631.6 807.8h0M1431.2 1026.5h0M1541.8 901.5h0M1394.3 1114.9h0M1441.6 1011.7h0M1412.2 1100.4h0M1726.8 711.5h0M1522.5 990.3h0M1497.0 952.0h0"/><path stroke="#3869bc" d="M1405.0 1056.3h0M1434.7 1022.2h0M1850.4 594.9h0M2024.7 465.9h0M1896.8 610.9h0M1530.8 915.3h0M1507.1 939.4h0M1503.5 1008.5h0M1703.5 803.3h0M1802.7 635.2h0M1997.3 498.7h0M1986.9 507.9h0M1753.9 753.3h0M1741.7 765.0h0M1669.9 766.5h0M1427.9 1032.2h0M1572.2 871.2h0M1557.6 957.2h0M1859.8 651.4h0M1557.5 957.1h0M2028.8 421.1h0M1937.5 565.3h0M2120.8 354.3h0M1725.3 713.1h0M1992.8 502.7h0M1407.7 1053.1h0M1524.5 925.3h0M1711.9 726.9h0M1396.6 1071.6h0M2119.9 337.3h0M1874.0 637.9h0M2005.2 489.8h0M1574.0 869.8h0M1892.1 552.5h0M1900.0 545.3h0M1764.3 741.9h0M1405.5 1056.4h0M1476.1 1033.9h0M2055.2 432.6h0M1814.9 626.7h0M1495.8 955.6h0M1572.7 938.2h0M1712.3 794.7h0M1564.1 949.9h0M1534.1 912.0h0M1396.1 1112.2h0M1497.0 953.7h0M1652.0 792.9h0M1974.1 521.0h0M1912.6 535.5h0M1926.1 580.7h0M1513.7 935.0h0M2014.0 436.2h0M2131.3 336.9h0M1650.3 794.5h0M1841.2 669.8h0M2084.5 397.4h0M1707.6 797.8h0M2050.7 397.7h0M1731.3 707.8h0M2033.1 455.8h0M2020.3 429.9h0M1429.6 1031.6h0M1988.4 505.8h0M2033.6 455.1h0M1524.4 926.9h0M1785.8 654.1h0M1827.1 683.2h0M2010.4 440.1h0M2101.7 377.6h0M1988.9 505.7h0M2120.4 352.2h0M1942.0 558.0h0M1539.8 906.4h0M1943.4 555.7h0M1939.7 561.1h0"/><path stroke="#3b7cca" d="M1895.0 611.9h0M1489.1 962.4h0M2126.9 334.5h0M1734.8 704.1h0M2001.9 492.7h0M1393.4 1079.3h0M1887.9 558.0h0M1486.1 1023.2h0M1538.2 971.5h0M1753.8 684.1h0M1822.2 620.8h0M1673.1 765.6h0M1689.6 753.5h0M1517.6 933.4h0M1811.8 694.9h0M2093.7 358.7h0M1623.2 822.2h0M1652.1 793.3h0M1544.1 902.6h0M2114.6 360.9h0M1759.0 678.9h0M1441.7 1015.7h0M1774.1 665.6h0M2050.4 434.8h0M1610.6 899.9h0M1612.0 898.7h0M1417.1 1046.3h0M1629.8 813.5h0M1397.9 1071.0h0M1436.9 1022.4h0M1760.6 677.9h0M1519.6 932.4h0M1622.8 888.2h0M1644.1 864.1h0M1495.4 957.3h0M2102.2 376.3h0M1580.6 929.1h0M1477.9 1030.5h0M1695.4 812.9h0M1438.0 1071.6h0M1620.4 825.9h0M1726.4 714.4h0M1511.2 998.1h0M1538.1 971.3h0M2114.9 343.7h0M1853.7 655.5h0M1593.4 851.5h0M1954.5 543.4h0M1878.6 631.9h0M1603.6 840.3h0M1540.3 906.5h0M1502.0 948.4h0M1462.7 996.7h0M2100.1 378.6h0M2052.4 433.0h0M1422.1 1042.2h0M2108.7 367.2h0M1418.6 1046.1h0M1688.5 755.2h0M1800.9 704.7h0M1974.2 519.9h0M1429.9 1033.7h0M1472.1 984.8h0M1484.0 1024.2h0M1578.1 867.7h0M1519.5 934.2h0M1880.1 569.6h0M1471.3 986.3h0M1928.3 576.9h0M1404.2 1061.8h0M1780.5 725.4h0M1393.3 1080.9h0M2118.0 345.1h0M1716.6 790.3h0M1550.5 900.1h0M1596.2 848.9h0"/><path stroke="#4194d4" d="M1588.3 857.4h0M1545.7 963.2h0M1601.6 843.7h0M1811.9 630.9h0M1560.3 890.5h0M1727.7 713.5h0M2118.9 347.8h0M1605.1 840.2h0M1594.5 851.1h0M2091.9 362.3h0M2059.8 427.6h0M1533.9 915.5h0M1434.0 1029.5h0M1551.8 958.8h0M1635.2 807.9h0M1873.0 636.6h0M1746.5 758.2h0M1425.5 1039.5h0M1687.6 757.9h0M1436.5 1026.5h0M1716.3 726.4h0M1453.2 1006.1h0M1394.5 1080.5h0M1991.4 461.0h0M1760.1 679.9h0M1934.2 568.0h0M1429.8 1034.7h0M1764.8 674.9h0M1550.5 900.4h0M1620.5 827.2h0M1721.2 722.0h0M1987.3 464.6h0M1702.1 739.4h0M1408.5 1100.4h0M1616.8 831.0h0M1559.6 952.6h0M1661.7 782.4h0M1629.1 879.9h0M1417.1 1049.3h0M1828.3 618.2h0M1947.9 500.7h0M1426.3 1039.8h0M1724.7 718.0h0M1475.9 981.0h0M1587.4 922.4h0M2051.0 400.1h0M1627.9 819.2h0M2067.8 417.8h0M1731.2 772.2h0M1811.6 631.9h0M1944.4 504.2h0M1604.6 841.8h0M1987.4 464.5h0M1566.2 885.0h0M2072.9 382.9h0M1767.3 673.7h0M1435.9 1072.6h0M1689.6 818.7h0M1815.7 689.8h0M1413.6 1051.8h0"/><path stroke="#47a9db" d="M2106.4 367.4h0M2022.7 464.4h0M1641.7 864.5h0M1445.9 1062.6h0M2063.8 392.5h0M1517.7 937.3h0M1693.1 814.0h0M1655.3 794.1h0M1514.6 938.8h0M1911.3 538.8h0M2059.0 395.7h0M1474.0 984.2h0M2005.4 448.1h0M2108.5 352.6h0M1489.6 1018.8h0M2075.0 405.2h0M1482.6 973.9h0M1407.7 1100.5h0M1400.8 1105.7h0M1983.5 507.3h0M1731.1 712.1h0M1606.1 902.3h0M1506.8 947.1h0M1414.2 1052.5h0M1682.3 764.0h0M1757.3 745.8h0M1858.6 648.1h0M1398.2 1075.7h0M1938.8 512.3h0M1622.8 827.4h0M1547.6 904.6h0M1902.8 601.5h0M1734.1 768.4h0M2089.6 365.7h0M2094.5 362.9h0M1916.7 588.3h0M1524.0 933.3h0M1730.4 772.8h0M1508.9 944.6h0M1616.4 892.5h0M1600.2 848.4h0M1727.4 716.5h0M1839.5 611.3h0M2108.7 353.4h0M1609.3 839.3h0M1504.0 950.7h0M1398.5 1074.8h0M1392.8 1086.2h0M1427.9 1039.9h0M1514.3 940.1h0M1392.7 1085.5h0M1569.8 881.4h0M1932.7 520.8h0M1962.8 490.1h0M1828.0 620.0h0M1710.9 734.2h0M1406.9 1061.5h0M1490.4 1017.9h0M1884.6 621.6h0M1444.6 1017.4h0M1765.1 677.2h0M1635.0 812.3h0M1792.0 712.1h0M1597.0 852.0h0M1808.0 695.5h0M1473.8 985.7h0M1541.3 910.1h0M1857.8 591.1h0M2053.5 399.7h0M1745.3 697.3h0M1508.8 998.2h0M1572.1 878.8h0M1615.0 834.9h0M2098.0 360.6h0M1567.1 942.0h0"/><path stroke="#4eb2d6" d="M1845.0 662.2h0M1574.1 932.8h0M2063.7 421.6h0M1950.9 499.6h0M1640.6 806.5h0M1392.7 1086.0h0M1641.1 863.9h0M2015.4 471.8h0M1542.8 908.6h0M1852.3 597.9h0M1452.2 1056.8h0M1982.4 507.5h0M1600.0 849.1h0M1430.3 1037.4h0M1687.4 819.1h0M1988.4 502.4h0M1962.9 490.4h0M1854.7 651.4h0M1418.5 1050.3h0M1687.3 762.6h0M1490.2 1017.7h0M1532.2 922.9h0M1840.4 611.0h0M1889.3 614.0h0M1488.8 970.4h0M1511.8 943.0h0M1580.2 926.7h0M1977.9 512.4h0M1749.6 693.6h0M1686.1 763.8h0M1400.4 1074.2h0M1601.9 847.4h0M1749.2 694.1h0M1773.8 669.7h0M1804.6 639.4h0M1845.5 606.6h0M1996.0 458.9h0M1740.4 760.4h0M1504.7 951.5h0M1444.7 1019.1h0M1839.7 666.7h0M1758.5 685.1h0M1404.5 1067.7h0M1435.3 1072.1h0M2057.2 425.8h0M1592.2 916.6h0M1805.0 639.1h0M1408.9 1098.6h0M1880.2 626.7h0M1595.1 913.4h0M1769.1 674.0h0M1798.6 703.6h0M1470.9 992.5h0M1662.1 786.1h0M1911.6 540.6h0M1622.6 830.1h0M1963.9 490.1h0M1724.7 721.8h0M1435.3 1031.6h0M1868.6 637.9h0M1711.1 735.5h0M1724.3 779.0h0M1808.8 636.2h0M1998.7 492.7h0M1436.0 1031.5h0M2074.9 402.5h0M1463.0 1046.6h0M1923.6 531.2h0M1466.5 998.6h0M1652.4 800.2h0M2101.9 362.7h0M1453.8 1010.7h0M1462.5 1003.4h0M1507.4 948.4h0M2097.9 375.0h0M2085.6 388.6h0M1992.8 497.4h0M1961.2 533.6h0"/><path stroke="#55bbd1" d="M1644.9 859.8h0M1712.0 790.0h0M1674.5 825.1h0M1586.2 866.3h0M1523.5 936.7h0M2027.7 456.5h0M2101.2 363.0h0M1613.2 893.5h0M1589.7 863.0h0M1666.7 778.9h0M1833.8 672.0h0M1392.9 1111.9h0M1652.9 800.4h0M1443.3 1022.2h0M2010.9 476.9h0M1590.1 863.3h0M1698.3 748.5h0M1458.5 1007.9h0M1753.0 691.7h0M1572.5 881.2h0M2098.9 369.7h0M1928.0 528.1h0M1804.3 640.7h0M1536.2 919.7h0M1492.7 1014.9h0M1438.7 1067.8h0M1708.8 737.2h0M1581.6 924.3h0M1742.6 702.3h0M1439.4 1028.4h0M1829.2 675.5h0M1734.6 765.1h0M1534.2 922.1h0M1464.7 1002.0h0M1852.9 598.9h0M1728.0 718.5h0M1673.5 825.6h0M1819.3 629.0h0M1608.8 896.8h0M2030.8 424.9h0M1867.4 637.6h0M1649.9 803.4h0M1411.8 1058.6h0M1395.7 1084.9h0M1718.1 784.5h0M2078.0 395.5h0M2062.0 420.5h0M1628.1 824.7h0M1462.4 1005.1h0M1831.2 620.2h0M1566.3 890.0h0M1966.3 488.4h0M1618.4 835.7h0M1428.8 1042.9h0M1662.7 787.5h0M1498.8 1009.0h0M1589.1 917.8h0M2029.7 427.1h0M2021.2 462.3h0M1657.4 796.0h0"/><path stroke="#59bcc0" d="M1954.8 538.5h0M2077.5 396.1h0M1692.2 758.7h0M1522.6 939.0h0M1417.5 1091.5h0M2015.6 468.9h0M1500.6 960.5h0M1890.0 611.3h0M1565.0 892.5h0M1960.8 532.8h0M1877.2 628.3h0M1412.8 1095.2h0M1622.6 883.5h0M1850.5 603.0h0M2073.4 388.5h0M1734.1 712.3h0M1493.7 1013.5h0M1863.8 588.4h0M1665.7 834.2h0M1665.5 783.1h0M2048.7 406.5h0M2043.7 434.6h0M1470.9 995.7h0M1883.0 621.1h0M1605.5 847.3h0M1945.2 507.1h0M1979.0 509.2h0M1701.1 746.0h0M1507.7 997.9h0M1808.5 638.4h0M1620.2 834.8h0M1735.8 763.3h0M1580.4 875.0h0M1399.5 1079.8h0M1790.8 656.2h0M1782.1 665.1h0M1746.9 699.7h0M1817.8 631.9h0M1635.1 816.6h0M1677.5 772.2h0M2077.0 388.4h0M2072.2 393.1h0M1739.2 707.6h0M2020.7 461.1h0M2038.3 441.6h0M1757.2 689.1h0M2087.9 375.0h0M1618.4 886.8h0M1552.5 954.3h0M1650.3 853.6h0M2080.3 384.9h0M1477.3 987.2h0M1473.7 992.2h0M1617.2 888.2h0M1858.2 593.8h0M1860.9 641.5h0M1557.1 950.9h0M1444.2 1024.6h0M1631.0 823.2h0"/><path stroke="#5dbcae" d="M2084.6 379.2h0M1792.5 655.4h0M1763.3 682.2h0M1720.6 730.0h0M1610.5 894.1h0M2054.0 403.6h0M1618.6 836.7h0M1944.4 508.5h0M1875.8 628.9h0M1613.6 891.2h0M1671.6 775.9h0M1484.1 979.0h0M1458.3 1011.0h0M1842.5 612.2h0M1584.8 871.5h0M1425.6 1082.2h0M1523.5 940.2h0M1727.4 772.5h0M1554.2 906.7h0M1657.2 846.7h0M1527.7 935.8h0M1496.8 1010.1h0M1513.0 946.7h0M1849.9 604.6h0M1633.0 869.5h0M1599.5 854.6h0M1620.2 884.6h0M1571.2 932.7h0M1399.8 1080.9h0M1707.9 741.5h0M2043.2 413.3h0M1883.9 618.7h0M1873.6 582.5h0M1654.5 849.4h0M1725.0 724.4h0M1437.3 1035.1h0M1714.0 735.9h0M1837.8 665.8h0M1657.2 799.1h0M1657.0 846.1h0M1426.6 1048.1h0M1493.8 971.4h0M1749.9 697.3h0M1533.2 927.8h0M2011.5 446.7h0M1436.2 1036.7h0M1735.1 712.7h0M1685.2 768.8h0M1835.7 618.7h0M1609.7 845.2h0M1759.2 687.7h0M1849.0 654.1h0M1681.7 819.4h0M2006.5 480.7h0M1755.2 691.9h0M1520.3 985.2h0M1834.2 619.7h0M1855.0 647.5h0M1673.4 775.7h0M1599.1 905.1h0M1397.9 1084.3h0M1704.5 745.0h0M1719.9 731.2h0M1556.7 950.5h0M2043.4 414.0h0M2066.2 410.8h0M1471.7 997.5h0M1780.7 718.7h0M1396.3 1086.7h0M1745.6 702.6h0M1808.0 691.5h0M1569.0 889.3h0M1399.3 1083.0h0M1794.9 704.1h0M1671.3 824.9h0M1627.0 830.3h0M1623.3 880.8h0M1528.8 936.1h0M1638.0 862.5h0M1443.0 1028.1h0M1546.6 957.5h0"/><path stroke="#60bc9d" d="M1677.9 773.4h0M1442.7 1061.9h0M1866.8 587.7h0M1995.2 463.5h0M1586.8 871.2h0M1604.4 851.0h0M2014.1 444.2h0M1811.7 687.9h0M1496.6 1009.3h0M1878.3 579.0h0M1518.8 944.6h0M1405.7 1072.3h0M2060.5 417.8h0M1633.4 821.6h0M1973.3 483.2h0M1428.9 1046.1h0M1715.3 736.5h0M1878.6 624.8h0M1701.6 796.3h0M1770.9 677.0h0M1609.8 845.9h0M1581.7 921.8h0M1903.8 596.2h0M1542.1 917.1h0M1631.5 870.3h0M1752.3 744.9h0M1556.8 949.8h0M1717.8 734.3h0M2002.7 484.9h0M1561.1 901.0h0M1977.9 478.6h0M2018.3 462.3h0M1792.1 656.6h0M1615.8 841.3h0M2028.1 451.0h0M1657.3 845.1h0M1740.2 708.8h0M1941.9 550.1h0M1641.8 812.5h0M2068.0 402.1h0M2048.2 411.0h0M1975.4 511.6h0M1418.5 1057.4h0M1783.6 715.2h0M1933.5 525.0h0M1719.9 732.7h0M1620.9 837.1h0M1844.2 612.0h0M1772.9 675.7h0M1701.2 749.2h0M1470.5 1000.7h0M1459.6 1047.5h0M1772.6 725.5h0M1699.4 798.3h0M1904.3 550.5h0M1674.4 821.5h0M1773.4 674.9h0M1543.9 958.5h0M1962.6 528.3h0M1680.2 818.5h0M1892.0 561.5h0M1991.4 467.3h0M1624.3 834.4h0M1949.3 540.4h0M1446.1 1026.0h0M1483.7 982.7h0M1631.2 870.6h0M1460.3 1011.9h0M1442.3 1030.6h0M1435.5 1039.8h0M1503.2 961.7h0M2062.9 413.0h0M2065.9 406.3h0M1884.6 616.2h0M1412.6 1063.4h0M1805.9 642.9h0"/><path stroke="#63bc92" d="M1585.9 873.2h0M1685.2 770.6h0M2038.3 421.3h0M1751.2 746.0h0M1824.5 676.2h0M2020.1 458.7h0M1731.4 718.9h0M1548.0 955.4h0M1805.1 692.7h0M1472.3 998.2h0M1484.7 981.8h0M2037.8 423.1h0M2021.2 457.2h0M1492.7 975.3h0M1470.3 1001.5h0M1520.0 945.1h0M1482.9 984.2h0M1793.5 656.5h0M1483.5 983.9h0M2049.9 410.5h0M1674.2 776.8h0M1950.6 504.6h0M1633.5 867.0h0M1565.1 939.5h0M1768.4 728.7h0M1445.2 1027.7h0M1758.9 689.9h0M2050.0 410.4h0M1788.5 709.8h0M1812.7 638.2h0M1565.6 897.4h0M1548.9 912.8h0M1765.7 683.4h0M1973.0 513.6h0M1927.6 532.1h0M1504.3 999.8h0M1412.4 1093.6h0M1952.6 503.1h0M1930.8 529.3h0M1544.8 916.1h0M1457.2 1049.2h0M1517.2 946.9h0M2060.8 407.3h0M1669.0 782.2h0M1753.9 742.1h0M2011.2 448.8h0M1733.6 717.7h0M2009.1 450.7h0M1641.3 858.2h0M1695.5 758.9h0M2033.8 443.3h0M2014.7 465.3h0M2028.3 449.9h0M2002.9 456.7h0M1456.8 1015.9h0M1648.2 810.2h0M1475.8 994.2h0M1537.8 924.2h0M1491.4 977.5h0M1667.2 785.6h0M1742.4 707.8h0M1549.9 912.8h0M1759.8 735.6h0M1466.1 1007.1h0M1612.9 845.7h0M1894.4 602.1h0M1631.8 825.9h0M1653.2 848.1h0M1947.7 507.6h0M2062.5 412.0h0M1585.3 874.5h0M1662.2 835.8h0M1617.4 842.0h0"/><path stroke="#66bc88" d="M1679.3 775.2h0M1465.3 1008.3h0M1659.1 799.9h0M1758.3 737.1h0M2028.8 433.9h0M1494.5 975.2h0M1406.9 1097.0h0M1488.2 1014.9h0M1476.7 1025.8h0M2002.8 482.9h0M1959.3 498.9h0M1527.5 941.1h0M1962.8 526.8h0M1919.6 539.9h0M1601.5 856.9h0M2059.3 414.6h0M1903.1 552.9h0M2031.9 431.2h0M1782.0 669.0h0M1459.5 1046.8h0M1748.9 702.6h0M1552.4 912.3h0M1980.8 502.7h0M1575.3 885.9h0M1768.6 681.9h0M1392.7 1095.7h0M1407.2 1074.0h0M1698.0 798.7h0M2021.4 454.5h0M2046.9 417.8h0M1911.6 546.3h0M1701.0 794.9h0M2032.8 444.2h0M1918.9 540.7h0M1693.9 804.9h0M1449.9 1024.1h0M2026.3 437.8h0M1703.2 749.9h0M1552.7 951.2h0M1633.6 825.4h0M1530.3 938.8h0M1659.7 800.0h0M2037.7 426.2h0M1618.1 842.8h0M1969.0 519.1h0M1752.9 742.1h0M2012.7 449.4h0M1701.6 793.8h0M1624.0 877.4h0M1535.9 965.8h0M1977.1 507.2h0M1791.0 660.7h0M1619.0 841.3h0M1773.3 723.1h0M2052.2 415.2h0M1917.8 579.5h0M1733.7 760.9h0M2048.2 417.8h0M1860.0 639.0h0M1662.7 834.1h0M1494.2 977.1h0M1491.5 979.1h0M1561.8 904.6h0M2005.8 478.4h0M1935.3 524.6h0M1983.5 499.9h0M1579.5 921.4h0M2032.1 432.3h0M1433.4 1070.2h0M1669.1 784.3h0M1650.6 810.3h0M1738.9 755.7h0M1543.7 957.0h0M1553.2 950.6h0M1675.7 778.3h0M1532.0 936.1h0M1948.6 539.5h0M1583.9 877.8h0M1910.7 587.0h0"/><path stroke="#6abc7d" d="M1759.4 735.4h0M1845.3 654.6h0M1761.7 689.1h0M1576.8 884.8h0M1434.9 1068.4h0M1431.4 1047.4h0M1883.7 615.1h0M1787.3 708.9h0M2022.1 443.7h0M1402.6 1099.0h0M1949.7 537.6h0M1731.1 722.3h0M1624.7 837.2h0M1722.5 733.7h0M1424.5 1081.0h0M1549.4 915.4h0M1961.8 498.1h0M1592.9 909.0h0M1693.1 766.0h0M1996.3 487.9h0M1487.1 983.5h0M1602.7 857.4h0M2021.3 453.0h0M1956.0 532.2h0M1986.9 474.5h0M1787.9 664.7h0M1662.9 833.3h0M2014.6 449.0h0M1824.0 631.9h0M1567.1 898.0h0M1821.1 634.0h0M2024.2 445.9h0M1775.3 720.3h0M1633.0 865.8h0M1838.2 620.4h0M1628.4 833.9h0M1593.0 869.4h0M1778.5 717.0h0M1440.8 1061.4h0M1874.0 626.6h0M1489.7 981.7h0M1834.5 664.1h0M1705.7 748.7h0M1529.3 974.1h0M1470.4 1032.6h0M1530.8 971.5h0M1603.4 857.3h0M1860.1 597.8h0M1468.0 1007.9h0M1424.5 1055.9h0M1650.2 810.9h0M1771.6 723.6h0M1787.5 665.6h0M1671.4 782.6h0M2025.2 443.3h0M2035.6 433.4h0M1737.4 756.3h0M2024.2 446.5h0M1965.9 521.1h0M2028.8 443.8h0M2009.3 453.6h0M1625.7 837.0h0"/><path stroke="#6fbe71" d="M2036.0 433.5h0M1532.6 969.7h0M1646.4 813.5h0M1983.5 498.6h0M1478.8 994.2h0M1481.4 1019.3h0M1685.6 812.8h0M1513.9 987.5h0M1923.8 538.5h0M1658.5 803.2h0M1733.8 759.9h0M2032.1 438.8h0M1796.8 655.8h0M1747.3 706.1h0M1657.2 841.6h0M1598.9 863.0h0M1539.8 959.8h0M1756.9 695.2h0M1647.4 813.2h0M1457.5 1018.7h0M1405.5 1079.5h0M1485.2 986.3h0M1427.1 1054.1h0M1601.8 860.1h0M1862.3 596.0h0M1397.2 1091.2h0M1546.3 918.4h0M1753.3 699.8h0M1725.4 769.3h0M1631.1 867.1h0M1471.5 1003.9h0M1580.5 882.8h0M1578.8 884.9h0M2015.1 459.6h0M1534.9 934.1h0M1434.5 1045.6h0M1968.0 492.7h0M1478.8 1021.3h0M1601.7 859.8h0M1752.7 700.6h0M1903.5 592.5h0M1563.6 938.9h0M1766.3 685.6h0M1864.5 594.1h0M1798.0 654.6h0M1619.4 844.2h0M1832.8 626.4h0M1409.9 1072.9h0M1924.3 570.7h0M1468.3 1008.4h0M1883.4 613.9h0M1789.4 705.1h0M1764.1 729.5h0M1747.2 745.9h0M1765.0 687.2h0M1437.3 1042.7h0M1455.5 1021.4h0M1949.6 536.3h0M1407.1 1077.5h0M1666.0 791.4h0M1845.3 615.5h0M1702.1 791.3h0M1572.2 892.7h0M1847.7 650.8h0M1440.4 1038.8h0M1420.4 1061.3h0M1788.7 665.8h0M1627.8 835.9h0M1868.3 591.7h0M1605.6 894.1h0M1499.6 1003.6h0M2013.4 452.4h0M1584.1 915.6h0M2013.8 452.4h0M1440.4 1061.3h0M1451.8 1025.6h0"/><path stroke="#75bf66" d="M1783.2 670.4h0M1623.1 877.0h0M1686.3 811.6h0M1484.4 988.0h0M1840.3 620.4h0M1557.9 911.7h0M1646.3 814.6h0M1775.1 678.1h0M1724.9 732.3h0M1652.6 810.3h0M1465.7 1012.0h0M1704.9 751.0h0M1517.1 984.3h0M1574.1 890.3h0M1675.6 780.6h0M1566.9 933.4h0M1944.6 541.3h0M1835.4 661.2h0M1402.4 1098.4h0M1722.5 735.4h0M1778.3 715.9h0M1907.3 552.5h0M1638.3 822.2h0M1718.4 777.6h0M2005.6 476.1h0M1693.5 803.0h0M1400.6 1087.7h0M1779.5 674.7h0M1672.2 819.8h0M1596.9 903.2h0M1632.0 830.8h0M1932.8 558.8h0M1686.1 775.9h0M1981.3 499.1h0M1758.8 694.6h0M1699.9 793.6h0M2009.8 455.5h0M1835.4 661.5h0M1575.7 923.1h0M1647.6 849.9h0M1528.5 973.4h0M1479.6 993.9h0M1434.0 1068.0h0M1773.3 680.3h0M1857.7 602.0h0M1553.9 914.8h0M1589.0 876.3h0M1722.0 736.2h0M1489.3 1012.3h0M1722.1 772.7h0M1594.4 905.6h0M1452.6 1050.8h0M1854.0 606.4h0M1802.9 650.3h0M1592.1 908.3h0M1956.7 530.1h0M2007.2 457.1h0M1561.7 909.1h0M1956.4 530.2h0M1984.6 494.5h0M1884.7 610.5h0M1423.2 1081.4h0M1508.6 961.1h0M1555.8 913.4h0M1778.5 715.2h0M1551.9 915.9h0M1631.2 832.5h0M1486.6 987.0h0M2006.7 458.0h0M1731.6 723.8h0M1728.6 764.1h0M1852.3 644.6h0"/><path stroke="#7cc15c" d="M1593.4 871.5h0M1647.8 849.7h0M1609.8 853.7h0M1836.2 659.9h0M1403.4 1097.4h0M1527.9 946.1h0M1976.1 485.9h0M1605.9 857.2h0M1902.1 557.7h0M1620.7 878.0h0M1435.1 1047.5h0M1456.1 1047.4h0M1716.4 778.3h0M1485.6 988.4h0M1634.4 829.1h0M2004.6 475.1h0M1426.0 1057.5h0M1892.0 567.9h0M1752.3 703.2h0M1440.3 1040.4h0M1619.1 846.1h0M1759.4 695.2h0M2010.4 456.5h0M1637.9 824.0h0M1765.1 726.8h0M1800.3 653.3h0M1509.0 961.5h0M1930.3 534.5h0M1804.3 688.1h0M1526.4 947.4h0M1912.6 581.3h0M1545.5 953.7h0M1722.0 771.6h0M1634.1 861.5h0M1645.2 817.3h0M1607.2 891.1h0M1600.0 899.0h0M1719.5 774.8h0M1483.4 1016.0h0M1540.9 926.3h0M1684.7 778.2h0M1544.2 923.2h0M1504.8 968.0h0M1990.6 476.2h0M1984.1 493.1h0M1638.1 824.7h0M1812.2 681.9h0M1476.5 999.9h0M1604.5 859.8h0M1556.1 914.8h0M1682.3 779.0h0M1889.3 571.3h0M1819.1 639.0h0M1667.4 792.5h0M1956.5 505.1h0M1801.8 690.6h0M1830.1 664.7h0"/><path stroke="#83c253" d="M1732.3 724.5h0M1818.7 639.0h0M1997.8 467.8h0M2008.5 461.7h0M1542.1 926.2h0M1961.2 502.5h0M1665.4 826.2h0M1970.0 493.5h0M1607.9 890.4h0M1970.2 513.4h0M1989.9 486.1h0M1446.0 1055.0h0M1753.5 737.4h0M1826.9 667.8h0M1476.4 1001.1h0M1843.6 619.8h0M1532.6 941.0h0M1435.0 1048.5h0M1614.6 850.6h0M1612.5 852.7h0M1889.9 601.6h0M1595.4 871.0h0M1475.5 1024.0h0M1419.5 1064.7h0M1479.3 997.5h0M1978.2 485.1h0M2004.2 462.5h0M1403.2 1086.5h0M1668.0 822.1h0M1696.3 765.0h0M2001.5 465.0h0M2000.8 477.3h0M1402.2 1098.0h0M1470.5 1009.1h0M1957.9 505.6h0M1635.3 829.8h0M1508.7 961.9h0M1978.9 485.3h0M1637.9 825.5h0M1792.9 698.6h0M1568.4 901.0h0M1970.9 511.2h0M1854.0 608.7h0M1608.7 856.3h0M1922.8 543.3h0M1646.6 849.2h0M1717.1 775.8h0M1602.1 863.2h0M1935.2 552.2h0M1703.2 787.9h0M1543.1 954.6h0M1774.6 717.3h0M1994.2 474.7h0M1671.8 787.0h0M1918.2 574.1h0M1458.3 1022.5h0M1599.5 898.6h0M1957.2 506.1h0M1480.5 996.2h0M1977.0 501.9h0M1776.7 679.6h0M1432.5 1068.7h0M1480.3 996.6h0M1787.0 704.8h0M1480.5 996.3h0M1684.4 779.5h0"/><path stroke="#8ac44b" d="M1993.4 476.5h0M1574.9 922.3h0M1474.4 1025.2h0M1743.5 747.1h0M1856.5 605.9h0M1759.7 696.7h0M1720.0 742.0h0M1988.4 484.6h0M1696.2 797.0h0M1429.6 1055.5h0M1935.7 551.3h0M1432.2 1052.5h0M1687.7 777.8h0M1518.3 953.9h0M1473.2 1006.4h0M1423.4 1062.1h0M1471.5 1008.6h0M1742.0 748.0h0M1459.5 1021.6h0M1430.5 1071.0h0M1755.7 701.2h0M1480.7 997.0h0M1729.7 729.8h0M1890.6 571.9h0M1718.8 743.6h0M1697.3 795.1h0M1609.6 856.2h0M1798.2 658.2h0M1991.2 484.3h0M1791.8 665.8h0M1677.2 814.0h0M1405.0 1084.5h0M1444.1 1056.2h0M1804.7 651.2h0M1597.6 870.1h0M1723.2 768.7h0M1600.1 897.4h0M1758.7 697.6h0M1478.8 999.7h0M1675.8 814.7h0M1924.5 543.7h0M1427.2 1058.1h0M1690.8 803.8h0M1665.6 797.2h0M1415.0 1070.9h0M1969.2 511.8h0M1545.3 924.5h0M1819.4 673.6h0M1478.8 999.0h0M1898.8 562.4h0M1710.2 749.7h0M1771.5 718.9h0M1844.8 649.9h0M1459.7 1043.0h0M1836.3 627.0h0M2005.6 463.8h0M1479.9 998.3h0M1758.4 730.7h0"/><path stroke="#93c645" d="M1422.8 1063.0h0M1557.4 916.0h0M1707.9 751.8h0M1697.0 765.8h0M1441.5 1058.2h0M1785.8 672.1h0M1433.4 1066.9h0M1694.7 770.0h0M1425.0 1060.8h0M1501.7 998.7h0M1529.8 946.8h0M1487.4 989.9h0M1470.9 1010.2h0M1578.8 890.0h0M1621.1 876.2h0M1830.5 661.9h0M1805.7 650.4h0M1592.0 905.3h0M1981.2 486.6h0M1687.1 807.5h0M1958.0 508.1h0M1575.2 894.3h0M1871.1 593.2h0M1780.3 677.7h0M1500.6 977.7h0M1589.5 880.0h0M1648.1 847.3h0M1469.9 1012.3h0M1619.1 849.3h0M1397.4 1095.1h0M1572.5 897.5h0M1996.2 475.6h0M1623.4 845.9h0M2002.5 472.6h0M1552.7 947.0h0M1500.3 1000.4h0M1809.2 648.0h0M1945.8 535.5h0M1964.2 502.4h0M1615.8 852.1h0M1723.0 739.7h0M1925.6 543.1h0M2001.7 472.7h0M1785.2 705.0h0M1485.5 1012.6h0M1786.4 704.1h0M1975.2 492.7h0M1835.0 629.0h0M1944.5 536.3h0M1815.5 643.8h0M1583.2 886.5h0M1653.9 814.6h0M1756.2 702.1h0M1680.4 783.0h0M1643.9 849.7h0M1687.2 780.1h0M1769.3 720.3h0M1758.6 730.0h0M1491.5 987.0h0M1718.6 745.1h0"/><path stroke="#9dc93f" d="M1591.7 879.5h0M1723.0 740.3h0M1692.5 774.8h0M1444.3 1039.2h0M1561.7 913.5h0M1747.5 711.9h0M1966.4 513.6h0M1901.8 588.5h0M1436.6 1062.7h0M1948.5 515.9h0M1930.0 557.5h0M1943.5 537.7h0M1661.4 830.9h0M1948.0 532.2h0M1692.8 800.3h0M1510.3 987.9h0M1621.3 875.1h0M1644.1 849.8h0M1846.8 619.7h0M1802.5 654.7h0M1977.0 490.0h0M1744.4 715.2h0M1923.8 564.4h0M1953.1 512.5h0M1700.9 788.8h0M1812.1 646.3h0M1975.1 494.9h0M1667.7 795.7h0M1888.5 576.5h0M1590.6 906.2h0M1956.1 524.6h0M1955.8 509.7h0M1548.1 949.8h0M1532.5 945.4h0M1595.1 901.8h0M1775.7 714.3h0M1577.9 917.9h0M1668.0 820.1h0M1972.6 503.9h0M1523.9 952.7h0M1562.1 913.1h0M1403.2 1088.5h0M1734.3 725.1h0M1965.9 513.4h0M1393.7 1101.4h0M1934.3 535.1h0M1642.2 823.9h0M1808.3 650.1h0M1590.9 905.9h0M1952.0 514.0h0M1801.0 656.7h0M1959.8 508.3h0M1950.6 528.9h0M1430.5 1070.2h0M1399.5 1093.4h0M1554.5 945.1h0M1601.8 867.2h0M1935.9 546.7h0M1434.3 1052.0h0M1461.4 1040.5h0M1463.1 1020.4h0M1605.3 890.4h0M1776.1 682.6h0M1825.6 637.6h0M1696.7 768.9h0M1781.1 708.2h0M1615.6 853.8h0"/><path stroke="#a7cc3a" d="M1401.3 1097.3h0M1503.8 974.9h0M1401.9 1090.4h0M1737.6 722.3h0M1973.7 500.7h0M1429.7 1070.9h0M1721.3 743.1h0M1600.6 868.6h0M1681.3 810.9h0M1492.9 987.3h0M1963.4 515.7h0M1403.3 1088.8h0M1752.1 708.0h0M1935.0 535.4h0M1535.9 940.8h0M1924.4 545.4h0M1530.1 948.8h0M1813.6 646.6h0M1756.4 703.0h0M1800.1 687.8h0M1759.2 728.1h0M1778.8 680.7h0M1873.8 619.9h0M1655.3 839.3h0M1463.8 1020.4h0M1748.1 712.4h0M1719.4 771.2h0M1955.3 524.2h0M1422.3 1065.7h0M1420.2 1068.2h0M1926.1 560.8h0M1807.1 682.2h0M1926.9 560.1h0M1925.7 544.3h0M1730.9 730.7h0M1513.6 960.8h0M1462.6 1038.9h0M1728.5 760.2h0M1557.1 918.7h0M1550.2 923.0h0M1909.2 580.0h0M1923.5 546.6h0M1829.3 636.3h0M1608.6 886.3h0M1438.2 1048.1h0M1512.8 984.7h0M1413.3 1075.4h0M1397.6 1100.5h0M1794.3 666.4h0M1888.2 578.7h0M1930.5 541.8h0M1772.7 715.5h0M1800.5 658.6h0M1871.6 621.6h0M1829.6 636.4h0M1418.7 1083.8h0M1881.6 586.5h0M1831.1 635.4h0M1679.3 811.4h0M1640.6 826.6h0M1722.1 742.8h0M1668.7 795.4h0M1848.9 642.5h0M1490.2 989.8h0M1802.5 685.7h0M1772.4 715.9h0M1840.3 626.2h0M1879.6 589.4h0M1677.2 812.3h0M1654.7 839.6h0M1671.0 792.0h0M1895.8 590.7h0M1495.4 1004.2h0M1575.3 896.8h0M1539.8 955.9h0M1601.0 869.5h0"/><path stroke="#b9d137" d="M1932.8 549.9h0M1418.3 1070.4h0M1584.2 888.4h0M1551.2 923.1h0M1922.3 563.8h0M1859.8 629.5h0M1393.3 1102.8h0M1481.6 998.4h0M1481.6 999.1h0M1594.4 877.2h0M1932.9 548.6h0M1650.2 843.6h0M1582.6 890.0h0M1963.9 508.1h0M1477.9 1004.1h0M1627.3 844.2h0M1886.5 582.4h0M1501.3 997.4h0M1776.0 684.0h0M1757.3 729.4h0M1633.4 858.8h0M1535.8 942.9h0M1966.6 506.9h0M1466.8 1018.2h0M1864.5 602.1h0M1436.9 1050.5h0M1578.3 893.6h0M1757.9 702.9h0M1859.9 628.6h0M1945.3 531.4h0M1649.0 844.5h0M1589.5 883.8h0M1861.2 628.6h0M1923.0 562.5h0M1634.9 856.8h0M1641.9 826.7h0M1650.2 820.0h0M1496.4 985.5h0M1886.4 598.4h0M1700.9 763.7h0M1842.2 649.0h0M1587.5 885.7h0M1782.3 705.4h0M1564.6 912.4h0M1658.7 833.2h0M1880.5 610.0h0M1769.7 690.1h0M1945.1 523.2h0M1635.9 834.3h0M1454.1 1031.1h0M1946.8 522.4h0M1452.5 1047.7h0M1527.1 971.1h0M1895.2 571.0h0M1901.7 585.8h0M1927.2 546.6h0M1406.7 1085.7h0"/><path stroke="#cbd733" d="M1737.4 723.6h0M1855.8 611.9h0M1879.9 590.5h0M1473.8 1024.0h0M1586.9 886.2h0M1514.3 961.4h0M1724.3 742.0h0M1416.8 1085.2h0M1546.7 927.3h0M1864.2 602.3h0M1503.1 995.1h0M1425.8 1063.2h0M1724.4 741.2h0M1941.2 529.7h0M1832.8 634.5h0M1950.1 520.5h0M1712.6 776.4h0M1425.8 1063.8h0M1505.5 973.9h0M1529.2 968.2h0M1401.1 1094.4h0M1688.7 803.9h0M1654.9 816.4h0M1561.0 916.8h0M1744.5 741.8h0M1544.2 951.1h0M1541.9 953.3h0M1563.8 932.9h0M1552.5 923.4h0M1742.9 719.3h0M1398.0 1098.1h0M1842.7 626.0h0M1670.4 815.9h0M1769.6 716.9h0M1848.7 640.8h0M1541.3 953.7h0M1816.5 646.3h0M1950.9 518.9h0M1684.7 784.4h0M1401.6 1093.3h0M1918.3 567.7h0M1489.1 992.0h0M1950.8 524.8h0M1520.3 977.5h0M1481.5 1000.3h0M1834.3 633.7h0M1935.3 541.9h0M1644.1 847.7h0M1690.5 800.7h0M1418.7 1071.0h0M1923.6 549.7h0M1926.5 547.8h0M1796.3 689.8h0M1709.7 778.4h0M1945.5 528.2h0M1689.2 802.5h0M1759.1 726.3h0M1460.4 1025.3h0M1954.0 520.9h0M1895.3 572.2h0M1929.1 552.7h0M1825.8 661.6h0"/><path stroke="#ddda2f" d="M1734.4 728.2h0M1777.3 684.1h0M1836.4 653.4h0M1922.5 559.5h0M1878.0 612.8h0M1943.5 531.2h0M1835.9 632.7h0M1928.7 552.9h0M1565.8 911.6h0M1777.5 708.9h0M1463.1 1022.9h0M1794.6 667.6h0M1855.3 631.5h0M1691.5 779.4h0M1594.6 878.9h0M1789.4 673.8h0M1595.2 899.2h0M1586.6 907.9h0M1546.4 928.5h0M1785.2 677.1h0M1558.1 939.6h0M1728.9 757.7h0M1871.8 618.5h0M1926.1 549.1h0M1852.2 634.6h0M1925.8 548.1h0M1640.9 849.8h0M1421.7 1068.2h0M1412.7 1078.5h0M1735.4 727.1h0M1924.0 557.3h0M1651.9 820.2h0M1865.0 603.1h0M1681.1 808.6h0M1894.6 588.9h0M1556.4 940.7h0M1612.6 881.2h0M1685.8 805.9h0M1638.9 831.9h0M1665.6 821.5h0M1884.5 599.7h0M1814.6 648.0h0M1682.6 807.7h0M1906.3 579.9h0M1591.1 883.2h0M1698.3 770.0h0M1774.5 687.4h0M1453.3 1033.6h0M1466.1 1020.4h0M1443.9 1044.1h0M1814.7 648.0h0M1445.4 1053.0h0M1810.2 676.7h0M1450.6 1036.3h0M1838.0 650.7h0M1610.4 882.6h0M1521.5 976.1h0M1583.4 890.5h0M1882.8 590.3h0M1704.2 760.9h0"/><path stroke="#e4c428" d="M1921.3 553.7h0M1838.5 631.2h0M1706.2 758.7h0M1732.6 753.2h0M1455.1 1045.0h0M1852.4 618.5h0M1422.1 1068.8h0M1514.1 963.4h0M1920.5 554.5h0M1496.7 987.7h0M1503.2 980.2h0M1862.6 624.3h0M1910.6 560.2h0M1893.5 575.5h0M1751.4 732.5h0M1425.1 1065.4h0M1566.4 912.0h0M1492.4 991.0h0M1661.0 811.1h0M1667.4 818.3h0M1502.6 980.7h0M1904.5 580.5h0M1775.4 710.0h0M1587.7 887.9h0M1599.8 893.6h0M1885.7 587.2h0M1602.8 870.8h0M1423.2 1067.8h0M1910.5 560.8h0M1588.2 887.4h0M1854.0 632.3h0M1680.7 808.3h0M1564.6 914.7h0M1906.3 578.4h0M1533.7 948.2h0M1859.9 625.6h0M1565.3 914.1h0M1537.1 943.4h0M1712.8 753.5h0M1763.0 699.8h0M1902.6 582.1h0M1863.7 606.4h0M1821.2 645.5h0M1877.3 594.7h0M1923.1 555.1h0M1599.4 893.8h0M1860.4 609.8h0M1918.0 562.9h0M1877.5 610.9h0M1828.6 641.3h0"/><path stroke="#e8b124" d="M1915.1 567.7h0M1501.9 981.1h0M1695.5 775.6h0M1758.4 725.9h0M1534.3 947.5h0M1820.9 645.8h0M1638.7 833.6h0M1746.0 738.6h0M1724.0 744.4h0M1907.6 563.7h0M1437.1 1052.7h0M1844.8 627.0h0M1745.0 719.3h0M1424.4 1076.0h0M1792.0 692.5h0M1501.4 982.5h0M1607.0 885.8h0M1603.2 889.8h0M1479.7 1015.5h0M1555.0 941.7h0M1721.7 747.3h0M1809.9 653.7h0M1762.6 721.5h0M1667.0 802.7h0M1711.5 755.2h0M1913.1 560.5h0M1782.2 681.6h0M1791.7 692.0h0M1593.0 883.3h0M1460.5 1039.5h0M1917.4 557.7h0M1736.3 728.5h0M1738.7 725.8h0M1677.2 790.4h0M1818.8 647.0h0M1875.3 613.2h0M1602.7 889.9h0M1418.2 1073.5h0M1752.7 712.5h0M1843.5 628.0h0M1851.1 621.5h0M1830.9 654.7h0M1696.2 774.8h0M1801.7 661.9h0M1413.3 1079.0h0M1539.3 940.2h0M1513.4 965.4h0M1514.1 981.7h0M1498.1 987.0h0M1420.7 1070.5h0M1752.3 713.3h0M1520.8 959.3h0M1738.3 726.6h0M1672.4 812.6h0M1798.6 665.1h0"/><path stroke="#e8a124" d="M1752.8 729.9h0M1865.4 605.8h0M1821.8 663.3h0M1872.6 599.3h0M1573.4 903.3h0M1488.8 995.1h0M1696.6 774.3h0M1897.4 584.2h0M1705.2 761.3h0M1910.9 562.7h0M1591.7 885.5h0M1597.5 878.4h0M1850.1 622.8h0M1716.8 770.2h0M1580.1 912.2h0M1691.4 781.7h0M1861.1 610.7h0M1886.7 592.7h0M1627.5 847.4h0M1651.6 822.4h0M1736.3 748.0h0M1665.3 806.0h0M1654.0 820.1h0M1827.0 643.6h0M1885.0 595.4h0M1547.6 929.5h0M1694.4 793.2h0M1534.0 948.8h0M1827.7 643.2h0M1912.0 569.2h0M1556.7 923.4h0M1905.2 577.5h0M1768.5 715.0h0M1903.3 578.8h0M1901.6 569.2h0M1530.0 953.5h0M1413.8 1078.7h0M1737.5 727.8h0M1738.3 726.9h0M1795.5 669.9h0M1425.6 1066.1h0M1615.7 859.1h0M1740.2 724.8h0M1910.5 564.3h0M1652.5 822.0h0M1526.5 956.1h0M1737.7 746.3h0M1833.3 639.8h0M1641.0 831.2h0M1706.1 760.4h0M1849.0 624.6h0M1699.8 770.2h0M1776.6 707.7h0M1428.9 1062.5h0M1892.2 581.4h0M1905.6 576.7h0M1728.5 756.0h0M1870.0 617.0h0"/><path stroke="#e89224" d="M1830.6 641.1h0M1443.6 1046.6h0M1824.3 660.2h0M1595.3 897.1h0M1718.0 768.2h0M1614.1 877.3h0M1627.6 848.7h0M1808.6 675.3h0M1856.1 627.5h0M1582.6 894.3h0M1841.0 631.9h0M1885.5 594.7h0M1498.3 987.4h0M1911.7 566.0h0M1424.6 1067.7h0M1553.1 926.4h0M1887.0 590.8h0M1766.4 698.5h0M1689.8 783.8h0M1867.8 617.8h0M1884.7 592.2h0M1499.4 997.8h0M1454.9 1034.3h0M1660.5 827.5h0M1610.0 881.1h0M1526.6 956.5h0M1763.4 719.3h0M1673.4 795.1h0M1910.9 565.6h0M1418.7 1074.0h0M1735.0 731.2h0M1900.8 580.3h0M1592.7 884.8h0M1894.3 583.1h0M1498.1 999.0h0M1777.2 688.0h0M1537.6 955.8h0M1862.1 621.4h0M1683.4 788.6h0M1512.2 982.9h0M1627.3 848.9h0M1475.6 1019.5h0M1900.9 579.0h0M1615.6 875.6h0M1571.5 920.7h0M1638.2 850.1h0M1652.3 822.6h0M1726.5 743.2h0M1743.2 723.3h0M1564.7 916.9h0M1718.7 767.0h0"/><path stroke="#e68525" d="M1774.0 709.1h0M1805.9 659.3h0M1744.9 737.3h0M1570.8 921.5h0M1831.8 641.2h0M1827.7 655.5h0M1632.4 843.3h0M1830.2 643.2h0M1826.0 646.0h0M1699.7 771.1h0M1463.6 1025.5h0M1520.8 960.9h0M1643.4 830.9h0M1882.0 598.2h0M1769.6 713.1h0M1857.5 618.4h0M1701.9 783.3h0M1525.4 957.9h0M1626.6 850.3h0M1517.4 977.8h0M1790.4 676.8h0M1515.5 979.5h0M1874.5 611.1h0M1591.4 886.8h0M1625.2 865.4h0M1640.3 833.8h0M1572.2 906.5h0M1790.6 691.3h0M1439.0 1052.6h0M1573.6 904.3h0M1848.1 636.4h0M1868.8 605.4h0M1677.6 792.3h0M1545.6 947.6h0M1438.8 1053.1h0M1494.3 992.4h0M1664.8 819.8h0M1862.7 612.0h0M1855.3 621.6h0M1717.3 768.4h0M1816.3 667.1h0M1642.8 831.2h0"/><path stroke="#e47926" d="M1904.2 574.6h0M1475.7 1012.0h0M1463.2 1035.5h0M1457.6 1032.4h0M1459.8 1039.1h0M1755.6 725.7h0M1851.4 631.1h0M1659.0 829.0h0M1449.2 1048.2h0M1527.1 957.0h0M1832.1 651.7h0M1737.4 729.5h0M1409.8 1087.5h0M1721.6 763.2h0M1524.6 958.7h0M1776.0 690.0h0M1876.1 608.7h0M1487.3 998.3h0M1821.2 661.6h0M1667.3 804.2h0M1845.0 639.2h0M1757.2 724.1h0M1794.2 686.5h0M1506.8 977.6h0M1877.4 599.9h0M1512.2 969.3h0M1785.7 696.3h0M1513.6 968.1h0M1510.4 972.4h0M1515.8 978.8h0M1830.2 652.8h0M1669.6 813.5h0M1456.9 1033.6h0M1829.7 652.8h0M1871.2 603.9h0M1413.7 1085.3h0M1816.1 651.9h0M1845.8 638.6h0M1821.1 649.3h0M1649.4 826.1h0"/><path stroke="#e26b26" d="M1689.6 798.6h0M1727.6 743.5h0M1454.5 1036.2h0M1688.7 786.6h0M1786.2 681.8h0M1672.2 798.0h0M1435.7 1057.6h0M1489.1 997.1h0M1440.4 1051.8h0M1705.4 763.7h0M1863.0 618.4h0M1438.7 1054.1h0M1860.4 620.0h0M1470.6 1025.3h0M1799.1 669.1h0M1630.4 846.8h0M1700.0 771.8h0M1623.6 854.2h0M1447.9 1043.9h0M1748.9 731.9h0M1716.5 754.5h0M1411.8 1086.6h0M1512.3 970.5h0M1448.6 1042.9h0M1859.8 617.7h0M1504.7 981.0h0M1707.5 776.6h0M1549.2 931.0h0M1665.4 818.2h0M1804.0 663.9h0M1470.8 1019.2h0M1602.2 875.4h0M1871.8 603.8h0M1614.6 875.7h0M1457.8 1040.5h0M1874.6 603.1h0M1837.0 639.6h0M1497.9 989.9h0M1502.2 993.2h0"/><path stroke="#e15e26" d="M1601.0 877.0h0M1736.4 745.1h0M1583.7 895.4h0M1825.9 655.0h0M1678.9 792.6h0M1747.4 720.7h0M1684.0 790.1h0M1633.3 844.0h0M1503.3 992.0h0M1777.2 704.4h0M1867.5 609.1h0M1442.8 1052.7h0M1668.4 803.9h0M1429.0 1064.9h0M1837.5 640.1h0M1780.0 687.8h0M1669.3 803.0h0M1528.7 965.3h0M1542.3 939.4h0M1438.8 1055.1h0M1594.6 896.4h0M1458.4 1033.2h0M1851.0 628.5h0M1846.5 630.0h0M1806.5 661.1h0M1787.4 681.8h0M1532.4 953.8h0M1565.4 918.3h0M1622.7 867.2h0M1512.5 981.4h0M1864.8 615.5h0M1686.0 801.4h0M1797.6 682.5h0M1836.4 646.6h0M1513.6 980.4h0M1515.0 967.8h0M1792.4 677.6h0M1454.0 1043.3h0M1529.5 956.3h0M1606.2 870.6h0M1462.0 1029.5h0"/><path stroke="#e05226" d="M1819.6 652.6h0M1715.7 768.4h0M1643.2 832.7h0M1632.6 845.5h0M1787.5 681.9h0M1820.9 651.3h0M1783.3 696.9h0M1727.2 744.3h0M1760.9 707.7h0M1446.9 1048.7h0M1554.8 928.1h0M1688.5 798.7h0M1794.3 684.7h0M1490.1 1004.9h0M1712.9 757.9h0M1634.2 843.4h0M1787.1 682.7h0M1691.9 784.9h0M1727.1 755.1h0M1633.5 844.3h0M1633.6 844.5h0M1868.4 612.7h0M1484.2 1003.8h0M1647.1 829.6h0M1757.1 712.8h0M1829.2 649.9h0M1552.5 941.1h0M1549.7 932.1h0M1627.9 851.5h0"/><path stroke="#df4526" d="M1828.4 650.4h0M1532.5 954.2h0M1750.6 728.8h0M1553.4 939.9h0M1798.5 671.6h0M1720.9 762.0h0M1818.3 653.7h0M1634.6 843.5h0M1535.3 951.1h0M1867.9 612.2h0M1465.2 1026.3h0M1427.5 1068.5h0M1738.9 741.6h0M1500.5 994.7h0M1437.7 1057.2h0M1696.2 788.4h0M1810.8 669.3h0M1510.2 983.2h0M1450.2 1042.8h0M1819.0 653.3h0M1703.1 768.6h0M1486.9 1007.1h0M1616.3 862.2h0M1704.6 778.5h0M1797.0 681.0h0M1545.0 937.4h0M1467.7 1024.3h0M1677.5 806.2h0M1722.9 750.7h0M1584.7 905.2h0M1671.7 810.2h0M1560.2 924.1h0M1612.4 865.5h0M1426.8 1069.1h0M1758.2 711.8h0M1422.4 1073.3h0M1483.4 1009.5h0M1479.7 1009.5h0M1571.8 918.2h0M1472.8 1021.4h0M1649.3 838.7h0"/><path stroke="#de3926" d="M1671.2 801.5h0M1793.9 677.6h0M1665.0 817.5h0M1795.4 676.0h0M1701.2 781.6h0M1705.5 777.1h0M1718.1 764.9h0M1718.3 755.2h0M1693.6 791.3h0M1499.0 990.2h0M1727.1 746.6h0M1466.1 1026.4h0M1813.9 665.3h0M1457.1 1036.3h0M1785.5 693.1h0M1464.7 1027.2h0M1476.4 1014.3h0M1764.8 704.7h0M1449.7 1043.8h0M1679.7 794.0h0M1775.4 704.3h0M1485.3 1003.9h0M1691.2 794.4h0M1546.9 944.8h0M1824.3 653.9h0M1688.9 797.3h0M1468.1 1024.4h0M1471.6 1020.0h0M1569.3 914.6h0M1603.2 885.8h0M1697.7 778.5h0M1660.4 817.7h0M1823.6 652.5h0M1643.6 842.9h0M1653.6 834.2h0"/><path stroke="#dd3226" d="M1472.2 1019.7h0M1573.3 908.6h0M1478.7 1011.7h0M1823.6 653.5h0M1574.2 915.3h0M1794.4 677.6h0M1796.4 681.4h0M1735.2 735.4h0M1753.6 724.8h0M1798.8 679.0h0M1705.4 766.7h0M1586.6 895.5h0M1449.2 1045.7h0M1478.8 1013.1h0M1717.3 756.0h0M1456.6 1040.4h0M1807.7 670.8h0M1756.8 714.7h0M1739.9 729.9h0M1660.1 818.0h0M1812.0 666.8h0M1473.2 1020.1h0M1792.2 685.1h0M1490.7 998.6h0M1550.2 932.7h0M1637.4 847.8h0M1674.1 808.0h0M1809.3 662.1h0M1729.9 743.5h0M1723.9 751.4h0M1453.6 1042.3h0M1463.7 1029.4h0M1792.2 681.1h0M1673.3 808.3h0"/><path stroke="#dd2c26" d="M1626.9 853.7h0M1616.5 863.3h0M1594.1 888.0h0M1461.6 1031.4h0M1677.8 796.1h0M1520.8 964.7h0M1676.1 797.8h0M1774.3 704.2h0M1617.1 871.3h0M1603.0 877.1h0M1798.5 674.4h0M1808.9 662.4h0M1660.0 824.5h0M1792.5 684.3h0M1701.5 772.5h0M1644.2 834.2h0M1626.6 860.7h0M1737.0 734.4h0M1480.5 1011.0h0M1583.3 898.3h0M1704.8 768.3h0M1531.6 959.6h0M1719.1 762.5h0M1468.6 1026.3h0M1580.0 908.4h0M1704.1 768.9h0M1638.7 840.2h0"/><path stroke="#db2626" d="M1514.8 970.8h0M1573.3 915.4h0M1777.6 700.5h0M1736.4 742.5h0M1453.9 1041.0h0M1578.9 909.7h0M1461.8 1032.3h0M1594.6 888.4h0M1705.6 767.0h0M1680.7 794.8h0M1541.6 943.7h0M1752.0 720.5h0M1678.6 796.1h0M1596.8 892.2h0M1813.9 663.7h0M1691.0 788.0h0M1684.3 800.2h0M1558.8 933.3h0M1578.2 904.3h0M1570.7 913.7h0M1740.1 730.8h0M1523.9 968.9h0M1808.0 664.0h0M1598.9 882.6h0M1645.8 833.1h0M1752.9 724.6h0M1783.3 688.8h0M1800.8 675.6h0M1796.8 679.5h0M1760.1 717.4h0M1671.5 803.2h0M1721.6 759.1h0M1759.8 713.0h0M1598.1 890.4h0M1519.3 966.4h0M1671.5 808.7h0M1684.2 800.2h0M1721.8 754.5h0M1772.4 705.6h0"/><path stroke="#cc2327" d="M1536.0 953.6h0M1798.6 676.4h0M1563.3 924.5h0M1641.3 843.8h0M1528.4 963.4h0M1779.1 697.9h0M1758.1 718.5h0M1796.8 677.6h0M1779.4 697.4h0M1813.1 664.7h0M1663.5 816.0h0M1762.4 710.2h0M1787.8 686.9h0M1597.8 884.6h0M1750.7 722.1h0M1634.9 849.8h0M1581.9 900.4h0M1772.7 699.1h0M1662.9 816.9h0M1716.8 757.9h0M1539.2 948.9h0M1465.3 1029.3h0M1718.2 757.4h0M1486.1 1005.1h0M1542.8 942.7h0M1667.0 813.1h0M1555.3 930.5h0M1677.8 797.3h0M1499.2 993.3h0M1727.9 748.0h0M1501.1 990.9h0M1649.2 837.2h0"/><path stroke="#bb2228" d="M1650.6 835.9h0M1758.6 715.4h0M1590.7 897.4h0M1570.7 917.3h0M1595.9 892.6h0M1734.3 738.9h0M1544.7 945.3h0M1698.3 783.1h0M1598.2 890.4h0M1668.0 810.4h0M1558.4 933.0h0M1583.2 900.6h0M1649.0 837.2h0M1674.2 806.2h0M1725.4 754.2h0M1596.7 891.6h0M1654.8 826.2h0M1573.6 910.7h0M1683.0 800.8h0M1775.8 696.6h0M1666.1 813.4h0M1784.7 690.3h0M1622.1 860.3h0M1644.4 835.6h0M1717.4 759.0h0M1518.9 967.7h0M1812.3 664.3h0M1637.4 846.2h0M1767.2 705.5h0M1708.7 764.9h0M1507.1 983.8h0M1639.9 844.0h0M1757.3 718.6h0"/><path stroke="#a62028" d="M1631.4 851.5h0M1567.4 920.6h0M1775.7 701.0h0M1779.8 695.4h0M1493.4 999.6h0M1548.3 941.6h0M1654.3 831.5h0M1498.0 995.2h0M1652.7 833.0h0M1569.5 918.6h0M1569.4 918.0h0M1564.6 924.0h0M1722.8 754.5h0M1637.9 845.8h0M1626.6 856.1h0M1738.4 734.7h0M1659.5 822.0h0M1667.5 810.1h0M1586.6 900.5h0M1691.6 789.3h0M1727.5 751.4h0M1596.4 891.4h0M1744.7 729.1h0M1636.8 845.9h0M1511.7 980.1h0M1603.3 883.3h0M1620.6 865.8h0M1632.4 850.9h0M1669.6 808.1h0M1715.5 764.8h0M1741.5 731.9h0"/><path stroke="#932028" d="M1763.4 711.7h0M1809.5 665.3h0M1613.6 868.7h0M1651.0 830.6h0M1709.3 771.0h0M1657.3 824.8h0M1516.4 971.0h0M1763.1 711.4h0M1543.5 945.3h0M1544.1 942.7h0M1508.4 982.3h0M1545.3 943.7h0M1632.3 851.1h0M1585.2 899.7h0M1596.6 889.1h0M1770.9 705.1h0M1511.5 977.9h0M1600.7 885.7h0M1577.8 908.8h0M1767.5 706.6h0M1718.0 761.5h0"/><path stroke="#821f27" d="M1555.4 935.0h0M1585.7 899.8h0M1612.3 873.8h0M1765.6 708.8h0M1677.3 799.3h0M1587.7 897.4h0M1516.0 975.0h0M1511.7 978.4h0M1524.1 965.9h0M1714.1 765.7h0M1513.6 974.7h0M1604.1 879.2h0M1613.1 869.5h0M1684.9 795.6h0M1683.5 796.8h0M1599.6 886.2h0M1515.9 972.6h0M1706.5 769.8h0M1704.5 774.6h0M1643.2 839.6h0M1608.0 875.1h0M1675.2 801.8h0M1605.4 877.9h0M1596.6 888.8h0M1521.7 968.6h0M1522.2 968.0h0M1677.7 802.4h0M1612.6 871.7h0M1612.2 872.1h0M1716.7 760.9h0M1679.4 798.7h0M1547.3 941.7h0M1549.7 937.6h0M1607.3 876.9h0M1681.7 797.6h0M1709.4 766.8h0M1703.6 773.6h0M1674.4 803.5h0M1513.6 975.5h0M1553.8 935.7h0M1716.4 761.3h0"/></g></g></g>
<line x1="263.0" y1="1108.0" x2="1237.5" y2="68.7" stroke="#141414" stroke-width="3.0" stroke-dasharray="16.6 8" stroke-dashoffset="15.5" filter="url(#bl2)"/>
<line x1="1392.7" y1="1108.0" x2="2366.6" y2="68.7" stroke="#141414" stroke-width="3.0" stroke-dasharray="16.6 8" stroke-dashoffset="15.5" filter="url(#bl2)"/>
<rect x="263.0" y="68.7" width="974.5" height="1039.3" fill="none" stroke="#3d4147" stroke-width="3.6"/>
<path d="M263.0 1108.0v11M263.0 1108.0h-12M457.9 1108.0v11M263.0 900.1h-12M652.8 1108.0v11M263.0 692.3h-12M847.7 1108.0v11M263.0 484.4h-12M1042.6 1108.0v11M263.0 276.6h-12M1237.5 1108.0v11M263.0 68.7h-12" stroke="#3d4147" stroke-width="3.2" fill="none"/>
<rect x="1392.7" y="68.7" width="973.9" height="1039.3" fill="none" stroke="#3d4147" stroke-width="3.6"/>
<path d="M1392.7 1108.0v11M1392.7 1108.0h-12M1587.6 1108.0v11M1392.7 900.1h-12M1782.5 1108.0v11M1392.7 692.3h-12M1977.4 1108.0v11M1392.7 484.4h-12M2172.3 1108.0v11M1392.7 276.6h-12M2367.2 1108.0v11M1392.7 68.7h-12" stroke="#3d4147" stroke-width="3.2" fill="none"/>
<linearGradient id="cg" x1="0" y1="0" x2="0" y2="1"><stop offset="0.000" stop-color="#7a1f27"/><stop offset="0.040" stop-color="#a02028"/><stop offset="0.070" stop-color="#c42228"/><stop offset="0.100" stop-color="#dc2626"/><stop offset="0.150" stop-color="#de3826"/><stop offset="0.200" stop-color="#e05a26"/><stop offset="0.240" stop-color="#e47826"/><stop offset="0.280" stop-color="#e89424"/><stop offset="0.320" stop-color="#e8b824"/><stop offset="0.350" stop-color="#dcdc30"/><stop offset="0.400" stop-color="#a8cc3a"/><stop offset="0.450" stop-color="#8cc448"/><stop offset="0.500" stop-color="#78c060"/><stop offset="0.550" stop-color="#68bc80"/><stop offset="0.600" stop-color="#60bc9e"/><stop offset="0.650" stop-color="#56bcd0"/><stop offset="0.690" stop-color="#46a8dc"/><stop offset="0.720" stop-color="#3c80cc"/><stop offset="0.750" stop-color="#365fb5"/><stop offset="0.800" stop-color="#3455ac"/><stop offset="0.880" stop-color="#3150a8"/><stop offset="0.930" stop-color="#2e489e"/><stop offset="0.970" stop-color="#2b3788"/><stop offset="1.000" stop-color="#2a2e76"/></linearGradient>
<rect x="2427.0" y="68.7" width="53.0" height="1039.3" fill="url(#cg)" stroke="#2a2c33" stroke-width="2.6"/>
<path d="M2480.0 1108.0h11M2480.0 900.1h11M2480.0 692.3h11M2480.0 484.4h11M2480.0 276.6h11M2480.0 68.7h11" stroke="#2a2c33" stroke-width="3" fill="none"/>
</svg><div class="t " style="left:240.3px;top:39.8px;transform:translate(-100%,0);">50</div>
<div class="t " style="left:240.3px;top:246.5px;transform:translate(-100%,0);">40</div>
<div class="t " style="left:240.3px;top:453.3px;transform:translate(-100%,0);">30</div>
<div class="t " style="left:240.3px;top:660.1px;transform:translate(-100%,0);">20</div>
<div class="t " style="left:240.3px;top:866.9px;transform:translate(-100%,0);">10</div>
<div class="t " style="left:240.3px;top:1073.7px;transform:translate(-100%,0);">0</div>
<div class="t " style="left:262.0px;top:1121.6px;transform:translate(-50%,0);">0</div>
<div class="t " style="left:456.5px;top:1121.6px;transform:translate(-50%,0);">10</div>
<div class="t " style="left:650.5px;top:1121.6px;transform:translate(-50%,0);">20</div>
<div class="t " style="left:845.3px;top:1121.6px;transform:translate(-50%,0);">30</div>
<div class="t " style="left:1039.5px;top:1121.6px;transform:translate(-50%,0);">40</div>
<div class="t " style="left:1234.3px;top:1121.6px;transform:translate(-50%,0);">50</div>
<div class="t " style="left:1389.2px;top:1121.6px;transform:translate(-50%,0);">0</div>
<div class="t " style="left:1583.6px;top:1121.6px;transform:translate(-50%,0);">10</div>
<div class="t " style="left:1777.7px;top:1121.6px;transform:translate(-50%,0);">20</div>
<div class="t " style="left:1972.5px;top:1121.6px;transform:translate(-50%,0);">30</div>
<div class="t " style="left:2166.5px;top:1121.6px;transform:translate(-50%,0);">40</div>
<div class="t " style="left:2361.6px;top:1121.6px;transform:translate(-50%,0);">50</div>
<div class="t " style="left:747.0px;top:1204.1px;transform:translate(-50%,0);letter-spacing:-0.14px">Reference depth / m</div>
<div class="t " style="left:1875.6px;top:1204.1px;transform:translate(-50%,0);letter-spacing:-0.07px">Reference depth / m</div>
<div class="t " style="left:1182.0px;top:-1.4px;transform:translate(-50%,0);letter-spacing:3.2px">(a)</div>
<div class="t " style="left:2324.5px;top:-1.4px;transform:translate(-50%,0);letter-spacing:3px">(b)</div>
<div class="t " style="left:306.0px;top:77.9px;transform:translate(0,0);">MAE<span class="eq">=</span>2.19 m</div>
<div class="t " style="left:306.0px;top:133.8px;transform:translate(0,0);">RMSE<span class="eq">=</span>2.61 m</div>
<div class="t " style="left:306.0px;top:189.7px;transform:translate(0,0);">MAPE<span class="eq">=</span>21.33%</div>
<div class="t " style="left:306.0px;top:251.9px;transform:translate(0,0);"><i>R</i><sup>2</sup><span class="eq">=</span>0.94</div>
<div class="t " style="left:1432.3px;top:77.9px;transform:translate(0,0);">MAE<span class="eq">=</span>1.29 m</div>
<div class="t " style="left:1432.3px;top:133.8px;transform:translate(0,0);">RMSE<span class="eq">=</span>1.96 m</div>
<div class="t " style="left:1432.3px;top:189.7px;transform:translate(0,0);">MAPE<span class="eq">=</span>11.70%</div>
<div class="t " style="left:1432.3px;top:251.9px;transform:translate(0,0);"><i>R</i><sup>2</sup><span class="eq">=</span>0.97</div>
<div class="t " style="left:2493.0px;top:42.4px;transform:translate(0,0);">1.0</div>
<div class="t " style="left:2493.0px;top:248.1px;transform:translate(0,0);">0.8</div>
<div class="t " style="left:2493.0px;top:456.1px;transform:translate(0,0);">0.6</div>
<div class="t " style="left:2493.0px;top:664.1px;transform:translate(0,0);">0.4</div>
<div class="t " style="left:2493.0px;top:872.1px;transform:translate(0,0);">0.2</div>
<div class="t " style="left:2493.0px;top:1078.1px;transform:translate(0,0);">0</div>
<div class="t" style="left:137px;top:588px;transform:translate(-50%,-46.9px) rotate(-90deg);transform-origin:50% 46.9px">SAR estimation depth / m</div>
<div class="t" style="left:2647.7px;top:593px;transform:translate(-50%,-46.9px) rotate(-90deg);transform-origin:50% 46.9px">Density</div></div></body></html>
